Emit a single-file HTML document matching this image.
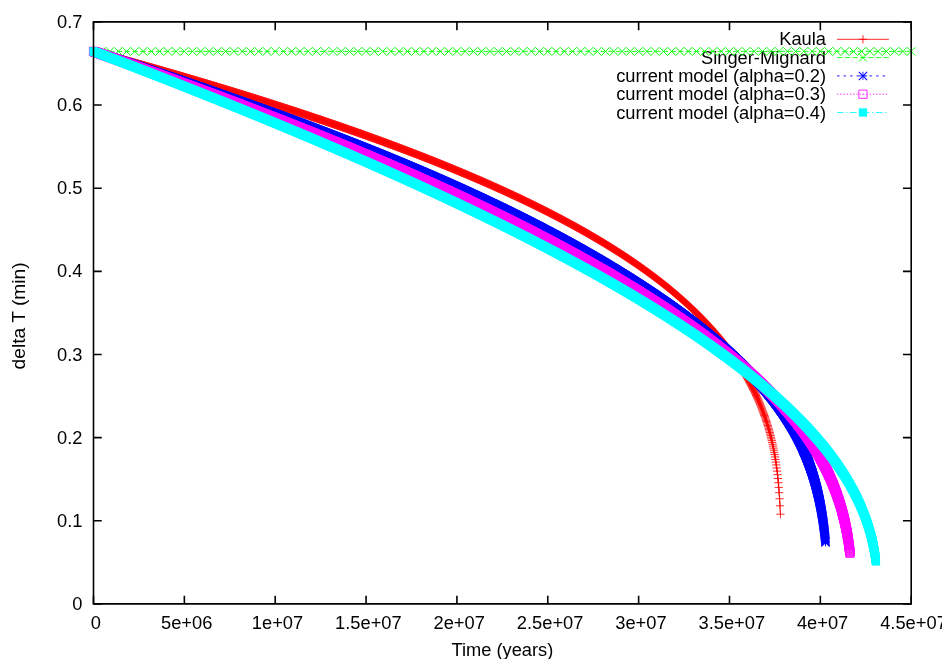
<!DOCTYPE html>
<html><head><meta charset="utf-8"><title>plot</title>
<style>
html,body{margin:0;padding:0;background:#fff;}
body{width:942px;height:659px;overflow:hidden;}
svg{display:block;will-change:transform;}
text{font-family:"Liberation Sans",sans-serif;font-size:18.3px;fill:#000;}
</style></head><body>
<svg width="942" height="659" viewBox="0 0 942 659">
<defs>
<marker id="mplus" markerUnits="userSpaceOnUse" markerWidth="12" markerHeight="12" refX="0" refY="0" viewBox="-6 -6 12 12" orient="0" overflow="visible"><path d="M-4.12,0H4.12M0,-4.12V4.12" stroke="#f00" stroke-width="0.85" fill="none"/></marker>
<g id="splus"><path d="M-4.12,0H4.12M0,-4.12V4.12" stroke="#f00" stroke-width="0.85" fill="none"/></g>
<marker id="mcrs" markerUnits="userSpaceOnUse" markerWidth="12" markerHeight="12" refX="0" refY="0" viewBox="-6 -6 12 12" orient="0" overflow="visible"><path d="M-4.12,-4.12L4.12,4.12M-4.12,4.12L4.12,-4.12" stroke="#0f0" stroke-width="0.95" fill="none"/></marker>
<g id="scrs"><path d="M-4.12,-4.12L4.12,4.12M-4.12,4.12L4.12,-4.12" stroke="#0f0" stroke-width="0.95" fill="none"/></g>
<marker id="mstar" markerUnits="userSpaceOnUse" markerWidth="12" markerHeight="12" refX="0" refY="0" viewBox="-6 -6 12 12" orient="0" overflow="visible"><path d="M-4.12,0H4.12M0,-4.12V4.12" stroke="#00f" stroke-width="0.85" fill="none"/><path d="M-4.12,-4.12L4.12,4.12M-4.12,4.12L4.12,-4.12" stroke="#00f" stroke-width="1.05" fill="none"/></marker>
<g id="sstar"><path d="M-4.12,0H4.12M0,-4.12V4.12" stroke="#00f" stroke-width="0.85" fill="none"/><path d="M-4.12,-4.12L4.12,4.12M-4.12,4.12L4.12,-4.12" stroke="#00f" stroke-width="1.05" fill="none"/></g>
<marker id="mbox" markerUnits="userSpaceOnUse" markerWidth="12" markerHeight="12" refX="0" refY="0" viewBox="-6 -6 12 12" orient="0" overflow="visible"><path d="M-4.12,-4.12H4.12V4.12H-4.12Z" stroke="#f0f" stroke-width="0.85" fill="none"/><circle r="0.5" fill="#f0f"/></marker>
<g id="sbox"><path d="M-4.12,-4.12H4.12V4.12H-4.12Z" stroke="#f0f" stroke-width="0.85" fill="none"/><circle r="0.5" fill="#f0f"/></g>
<marker id="mboxf" markerUnits="userSpaceOnUse" markerWidth="12" markerHeight="12" refX="0" refY="0" viewBox="-6 -6 12 12" orient="0" overflow="visible"><path d="M-4.12,-4.12H4.12V4.12H-4.12Z" stroke="none" fill="#0ff"/></marker>
<g id="sboxf"><path d="M-4.12,-4.12H4.12V4.12H-4.12Z" stroke="none" fill="#0ff"/></g>
</defs>
<g id="labels">
<text x="82.5" y="609.9" text-anchor="end">0</text>
<text x="82.5" y="526.8" text-anchor="end">0.1</text>
<text x="82.5" y="443.6" text-anchor="end">0.2</text>
<text x="82.5" y="360.5" text-anchor="end">0.3</text>
<text x="82.5" y="277.3" text-anchor="end">0.4</text>
<text x="82.5" y="194.2" text-anchor="end">0.5</text>
<text x="82.5" y="111.0" text-anchor="end">0.6</text>
<text x="82.5" y="27.9" text-anchor="end">0.7</text>
<text x="95.8" y="629.0" text-anchor="middle">0</text>
<text x="186.7" y="629.0" text-anchor="middle">5e+06</text>
<text x="277.5" y="629.0" text-anchor="middle">1e+07</text>
<text x="368.4" y="629.0" text-anchor="middle">1.5e+07</text>
<text x="459.2" y="629.0" text-anchor="middle">2e+07</text>
<text x="550.1" y="629.0" text-anchor="middle">2.5e+07</text>
<text x="640.9" y="629.0" text-anchor="middle">3e+07</text>
<text x="731.8" y="629.0" text-anchor="middle">3.5e+07</text>
<text x="822.6" y="629.0" text-anchor="middle">4e+07</text>
<text x="913.5" y="629.0" text-anchor="middle">4.5e+07</text>
<text x="502.4" y="655.6" text-anchor="middle">Time (years)</text>
<text transform="translate(24.7,315.9) rotate(-90)" text-anchor="middle" style="font-size:19.2px">delta T (min)</text>
</g>
<g id="plots">
<text x="826" y="45.3" text-anchor="end">Kaula</text>
<path d="M837.0,39.3H888.9" stroke="#f00" stroke-width="0.85" fill="none"/>
<use href="#splus" x="862.95" y="39.3"/>
<polyline points="93.50,51.40 93.91,51.51 94.32,51.62 94.73,51.73 95.14,51.85 95.55,51.96 95.96,52.07 96.37,52.18 96.78,52.29 97.19,52.40 97.60,52.52 98.01,52.63 98.42,52.74 98.83,52.85 99.24,52.96 99.65,53.08 100.06,53.19 100.47,53.30 100.88,53.41 101.29,53.52 101.70,53.64 102.11,53.75 102.52,53.86 102.93,53.97 103.34,54.09 103.75,54.20 104.16,54.31 104.57,54.42 104.98,54.54 105.39,54.65 105.80,54.76 106.21,54.87 106.62,54.99 107.03,55.10 107.44,55.21 107.85,55.32 108.26,55.44 108.67,55.55 109.08,55.66 109.49,55.77 109.90,55.89 110.31,56.00 110.72,56.11 111.13,56.23 111.54,56.34 111.95,56.45 112.36,56.57 112.77,56.68 113.18,56.79 113.59,56.91 114.00,57.02 114.41,57.13 114.82,57.24 115.23,57.36 115.64,57.47 116.05,57.58 116.47,57.70 116.88,57.81 117.29,57.93 117.70,58.04 118.11,58.15 118.52,58.27 118.93,58.38 119.34,58.49 119.75,58.61 120.16,58.72 120.57,58.83 120.98,58.95 121.39,59.06 121.80,59.18 122.21,59.29 122.62,59.40 123.03,59.52 123.44,59.63 123.85,59.75 124.26,59.86 124.67,59.98 125.08,60.09 125.49,60.20 125.90,60.32 126.31,60.43 126.72,60.55 127.13,60.66 127.54,60.78 127.95,60.89 128.36,61.00 128.77,61.12 129.18,61.23 129.59,61.35 130.00,61.46 130.41,61.58 130.82,61.69 131.23,61.81 131.64,61.92 132.05,62.04 132.46,62.15 132.87,62.27 133.28,62.38 133.69,62.50 134.10,62.61 134.51,62.73 134.92,62.84 135.33,62.96 135.74,63.07 136.15,63.19 136.56,63.30 136.97,63.42 137.38,63.53 137.79,63.65 138.20,63.76 138.61,63.88 139.02,64.00 139.43,64.11 139.84,64.23 140.25,64.34 140.66,64.46 141.07,64.57 141.48,64.69 141.89,64.81 142.30,64.92 142.71,65.04 143.12,65.15 143.53,65.27 143.94,65.38 144.35,65.50 144.76,65.62 145.17,65.73 145.58,65.85 145.99,65.97 146.40,66.08 146.81,66.20 147.22,66.31 147.63,66.43 148.04,66.55 148.45,66.66 148.86,66.78 149.27,66.90 149.68,67.01 150.09,67.13 150.50,67.25 150.91,67.36 151.32,67.48 151.73,67.60 152.14,67.71 152.55,67.83 152.96,67.95 153.37,68.06 153.78,68.18 154.19,68.30 154.60,68.41 155.01,68.53 155.42,68.65 155.83,68.77 156.24,68.88 156.65,69.00 157.06,69.12 157.47,69.23 157.88,69.35 158.29,69.47 158.70,69.59 159.11,69.70 159.52,69.82 159.93,69.94 160.34,70.06 160.75,70.17 161.16,70.29 161.57,70.41 161.98,70.53 162.40,70.65 162.81,70.76 163.22,70.88 163.63,71.00 164.04,71.12 164.45,71.23 164.86,71.35 165.27,71.47 165.68,71.59 166.09,71.71 166.50,71.83 166.91,71.94 167.32,72.06 167.73,72.18 168.14,72.30 168.55,72.42 168.96,72.54 169.37,72.65 169.78,72.77 170.19,72.89 170.60,73.01 171.01,73.13 171.42,73.25 171.83,73.37 172.24,73.48 172.65,73.60 173.06,73.72 173.47,73.84 173.88,73.96 174.29,74.08 174.70,74.20 175.11,74.32 175.52,74.44 175.93,74.56 176.34,74.68 176.75,74.79 177.16,74.91 177.57,75.03 177.98,75.15 178.39,75.27 178.80,75.39 179.21,75.51 179.62,75.63 180.03,75.75 180.44,75.87 180.85,75.99 181.26,76.11 181.67,76.23 182.08,76.35 182.49,76.47 182.90,76.59 183.31,76.71 183.72,76.83 184.13,76.95 184.54,77.07 184.95,77.19 185.36,77.31 185.77,77.43 186.18,77.55 186.59,77.67 187.00,77.79 187.41,77.91 187.82,78.03 188.23,78.15 188.64,78.27 189.05,78.39 189.46,78.51 189.87,78.63 190.28,78.75 190.69,78.88 191.10,79.00 191.51,79.12 191.92,79.24 192.33,79.36 192.74,79.48 193.15,79.60 193.56,79.72 193.97,79.84 194.38,79.96 194.79,80.09 195.20,80.21 195.61,80.33 196.02,80.45 196.43,80.57 196.84,80.69 197.25,80.81 197.66,80.94 198.07,81.06 198.48,81.18 198.89,81.30 199.30,81.42 199.71,81.54 200.12,81.67 200.53,81.79 200.94,81.91 201.35,82.03 201.76,82.15 202.17,82.28 202.58,82.40 202.99,82.52 203.40,82.64 203.81,82.76 204.22,82.89 204.63,83.01 205.04,83.13 205.45,83.25 205.86,83.38 206.27,83.50 206.68,83.62 207.09,83.74 207.50,83.87 207.91,83.99 208.33,84.11 208.74,84.23 209.15,84.36 209.56,84.48 209.97,84.60 210.38,84.73 210.79,84.85 211.20,84.97 211.61,85.10 212.02,85.22 212.43,85.34 212.84,85.47 213.25,85.59 213.66,85.71 214.07,85.84 214.48,85.96 214.89,86.08 215.30,86.21 215.71,86.33 216.12,86.45 216.53,86.58 216.94,86.70 217.35,86.82 217.76,86.95 218.17,87.07 218.58,87.20 218.99,87.32 219.40,87.44 219.81,87.57 220.22,87.69 220.63,87.82 221.04,87.94 221.45,88.07 221.86,88.19 222.27,88.31 222.68,88.44 223.09,88.56 223.50,88.69 223.91,88.81 224.32,88.94 224.73,89.06 225.14,89.19 225.55,89.31 225.96,89.44 226.37,89.56 226.78,89.69 227.19,89.81 227.60,89.94 228.01,90.06 228.42,90.19 228.83,90.31 229.24,90.44 229.65,90.56 230.06,90.69 230.47,90.81 230.88,90.94 231.29,91.06 231.70,91.19 232.11,91.31 232.52,91.44 232.93,91.57 233.34,91.69 233.75,91.82 234.16,91.94 234.57,92.07 234.98,92.19 235.39,92.32 235.80,92.45 236.21,92.57 236.62,92.70 237.03,92.83 237.44,92.95 237.85,93.08 238.26,93.20 238.67,93.33 239.08,93.46 239.49,93.58 239.90,93.71 240.31,93.84 240.72,93.96 241.13,94.09 241.54,94.22 241.95,94.34 242.36,94.47 242.77,94.60 243.18,94.73 243.59,94.85 244.00,94.98 244.41,95.11 244.82,95.23 245.23,95.36 245.64,95.49 246.05,95.62 246.46,95.74 246.87,95.87 247.28,96.00 247.69,96.13 248.10,96.25 248.51,96.38 248.92,96.51 249.33,96.64 249.74,96.76 250.15,96.89 250.56,97.02 250.97,97.15 251.38,97.28 251.79,97.40 252.20,97.53 252.61,97.66 253.02,97.79 253.43,97.92 253.85,98.05 254.26,98.17 254.67,98.30 255.08,98.43 255.49,98.56 255.90,98.69 256.31,98.82 256.72,98.95 257.13,99.08 257.54,99.20 257.95,99.33 258.36,99.46 258.77,99.59 259.18,99.72 259.59,99.85 260.00,99.98 260.41,100.11 260.82,100.24 261.23,100.37 261.64,100.50 262.05,100.63 262.46,100.76 262.87,100.88 263.28,101.01 263.69,101.14 264.10,101.27 264.51,101.40 264.92,101.53 265.33,101.66 265.74,101.79 266.15,101.92 266.56,102.05 266.97,102.18 267.38,102.31 267.79,102.44 268.20,102.58 268.61,102.71 269.02,102.84 269.43,102.97 269.84,103.10 270.25,103.23 270.66,103.36 271.07,103.49 271.48,103.62 271.89,103.75 272.30,103.88 272.71,104.01 273.12,104.14 273.53,104.28 273.94,104.41 274.35,104.54 274.76,104.67 275.17,104.80 275.58,104.93 275.99,105.06 276.40,105.20 276.81,105.33 277.22,105.46 277.63,105.59 278.04,105.72 278.45,105.85 278.86,105.99 279.27,106.12 279.68,106.25 280.09,106.38 280.50,106.51 280.91,106.65 281.32,106.78 281.73,106.91 282.14,107.04 282.55,107.18 282.96,107.31 283.37,107.44 283.78,107.57 284.19,107.71 284.60,107.84 285.01,107.97 285.42,108.10 285.83,108.24 286.24,108.37 286.65,108.50 287.06,108.64 287.47,108.77 287.88,108.90 288.29,109.04 288.70,109.17 289.11,109.30 289.52,109.44 289.93,109.57 290.34,109.70 290.75,109.84 291.16,109.97 291.57,110.10 291.98,110.24 292.39,110.37 292.80,110.51 293.21,110.64 293.62,110.77 294.03,110.91 294.44,111.04 294.85,111.18 295.26,111.31 295.67,111.45 296.08,111.58 296.49,111.72 296.90,111.85 297.31,111.98 297.72,112.12 298.13,112.25 298.54,112.39 298.95,112.52 299.36,112.66 299.78,112.79 300.19,112.93 300.60,113.06 301.01,113.20 301.42,113.33 301.83,113.47 302.24,113.61 302.65,113.74 303.06,113.88 303.47,114.01 303.88,114.15 304.29,114.28 304.70,114.42 305.11,114.56 305.52,114.69 305.93,114.83 306.34,114.96 306.75,115.10 307.16,115.24 307.57,115.37 307.98,115.51 308.39,115.65 308.80,115.78 309.21,115.92 309.62,116.05 310.03,116.19 310.44,116.33 310.85,116.47 311.26,116.60 311.67,116.74 312.08,116.88 312.49,117.01 312.90,117.15 313.31,117.29 313.72,117.43 314.13,117.56 314.54,117.70 314.95,117.84 315.36,117.98 315.77,118.11 316.18,118.25 316.59,118.39 317.00,118.53 317.41,118.66 317.82,118.80 318.23,118.94 318.64,119.08 319.05,119.22 319.46,119.35 319.87,119.49 320.28,119.63 320.69,119.77 321.10,119.91 321.51,120.05 321.92,120.19 322.33,120.32 322.74,120.46 323.15,120.60 323.56,120.74 323.97,120.88 324.38,121.02 324.79,121.16 325.20,121.30 325.61,121.44 326.02,121.58 326.43,121.72 326.84,121.86 327.25,122.00 327.66,122.14 328.07,122.27 328.48,122.41 328.89,122.55 329.30,122.69 329.71,122.83 330.12,122.97 330.53,123.11 330.94,123.26 331.35,123.40 331.76,123.54 332.17,123.68 332.58,123.82 332.99,123.96 333.40,124.10 333.81,124.24 334.22,124.38 334.63,124.52 335.04,124.66 335.45,124.80 335.86,124.94 336.27,125.09 336.68,125.23 337.09,125.37 337.50,125.51 337.91,125.65 338.32,125.79 338.73,125.93 339.14,126.08 339.55,126.22 339.96,126.36 340.37,126.50 340.78,126.64 341.19,126.79 341.60,126.93 342.01,127.07 342.42,127.21 342.83,127.36 343.24,127.50 343.65,127.64 344.06,127.78 344.47,127.93 344.88,128.07 345.29,128.21 345.71,128.35 346.12,128.50 346.53,128.64 346.94,128.78 347.35,128.93 347.76,129.07 348.17,129.21 348.58,129.36 348.99,129.50 349.40,129.64 349.81,129.79 350.22,129.93 350.63,130.08 351.04,130.22 351.45,130.36 351.86,130.51 352.27,130.65 352.68,130.80 353.09,130.94 353.50,131.09 353.91,131.23 354.32,131.37 354.73,131.52 355.14,131.66 355.55,131.81 355.96,131.95 356.37,132.10 356.78,132.24 357.19,132.39 357.60,132.53 358.01,132.68 358.42,132.82 358.83,132.97 359.24,133.12 359.65,133.26 360.06,133.41 360.47,133.55 360.88,133.70 361.29,133.85 361.70,133.99 362.11,134.14 362.52,134.28 362.93,134.43 363.34,134.58 363.75,134.72 364.16,134.87 364.57,135.02 364.98,135.16 365.39,135.31 365.80,135.46 366.21,135.60 366.62,135.75 367.03,135.90 367.44,136.04 367.85,136.19 368.26,136.34 368.67,136.49 369.08,136.63 369.49,136.78 369.90,136.93 370.31,137.08 370.72,137.23 371.13,137.37 371.54,137.52 371.95,137.67 372.36,137.82 372.77,137.97 373.18,138.12 373.59,138.26 374.00,138.41 374.41,138.56 374.82,138.71 375.23,138.86 375.64,139.01 376.05,139.16 376.46,139.31 376.87,139.45 377.28,139.60 377.69,139.75 378.10,139.90 378.51,140.05 378.92,140.20 379.33,140.35 379.74,140.50 380.15,140.65 380.56,140.80 380.97,140.95 381.38,141.10 381.79,141.25 382.20,141.40 382.61,141.55 383.02,141.70 383.43,141.85 383.84,142.01 384.25,142.16 384.66,142.31 385.07,142.46 385.48,142.61 385.89,142.76 386.30,142.91 386.71,143.06 387.12,143.21 387.53,143.37 387.94,143.52 388.35,143.67 388.76,143.82 389.17,143.97 389.58,144.12 389.99,144.28 390.40,144.43 390.81,144.58 391.23,144.73 391.64,144.89 392.05,145.04 392.46,145.19 392.87,145.34 393.28,145.50 393.69,145.65 394.10,145.80 394.51,145.96 394.92,146.11 395.33,146.26 395.74,146.42 396.15,146.57 396.56,146.72 396.97,146.88 397.38,147.03 397.79,147.19 398.20,147.34 398.61,147.49 399.02,147.65 399.43,147.80 399.84,147.96 400.25,148.11 400.66,148.27 401.07,148.42 401.48,148.57 401.89,148.73 402.30,148.88 402.71,149.04 403.12,149.19 403.53,149.35 403.94,149.51 404.35,149.66 404.76,149.82 405.17,149.97 405.58,150.13 405.99,150.28 406.40,150.44 406.81,150.60 407.22,150.75 407.63,150.91 408.04,151.06 408.45,151.22 408.86,151.38 409.27,151.53 409.68,151.69 410.09,151.85 410.50,152.01 410.91,152.16 411.32,152.32 411.73,152.48 412.14,152.63 412.55,152.79 412.96,152.95 413.37,153.11 413.78,153.26 414.19,153.42 414.60,153.58 415.01,153.74 415.42,153.90 415.83,154.06 416.24,154.21 416.65,154.37 417.06,154.53 417.47,154.69 417.88,154.85 418.29,155.01 418.70,155.17 419.11,155.33 419.52,155.49 419.93,155.64 420.34,155.80 420.75,155.96 421.16,156.12 421.57,156.28 421.98,156.44 422.39,156.60 422.80,156.76 423.21,156.92 423.62,157.08 424.03,157.24 424.44,157.41 424.85,157.57 425.26,157.73 425.67,157.89 426.08,158.05 426.49,158.21 426.90,158.37 427.31,158.53 427.72,158.69 428.13,158.86 428.54,159.02 428.95,159.18 429.36,159.34 429.77,159.50 430.18,159.67 430.59,159.83 431.00,159.99 431.41,160.15 431.82,160.32 432.23,160.48 432.64,160.64 433.05,160.80 433.46,160.97 433.87,161.13 434.28,161.29 434.69,161.46 435.10,161.62 435.51,161.78 435.92,161.95 436.33,162.11 436.74,162.28 437.16,162.44 437.57,162.60 437.98,162.77 438.39,162.93 438.80,163.10 439.21,163.26 439.62,163.43 440.03,163.59 440.44,163.76 440.85,163.92 441.26,164.09 441.67,164.25 442.08,164.42 442.49,164.58 442.90,164.75 443.31,164.92 443.72,165.08 444.13,165.25 444.54,165.41 444.95,165.58 445.36,165.75 445.77,165.91 446.18,166.08 446.59,166.25 447.00,166.41 447.41,166.58 447.82,166.75 448.23,166.92 448.64,167.08 449.05,167.25 449.46,167.42 449.87,167.59 450.28,167.75 450.69,167.92 451.10,168.09 451.51,168.26 451.92,168.43 452.33,168.60 452.74,168.77 453.15,168.93 453.56,169.10 453.97,169.27 454.38,169.44 454.79,169.61 455.20,169.78 455.61,169.95 456.02,170.12 456.43,170.29 456.84,170.46 457.25,170.63 457.66,170.80 458.07,170.97 458.48,171.14 458.89,171.31 459.30,171.48 459.71,171.65 460.12,171.82 460.53,172.00 460.94,172.17 461.35,172.34 461.76,172.51 462.17,172.68 462.58,172.85 462.99,173.03 463.40,173.20 463.81,173.37 464.22,173.54 464.63,173.72 465.04,173.89 465.45,174.06 465.86,174.23 466.27,174.41 466.68,174.58 467.09,174.75 467.50,174.93 467.91,175.10 468.32,175.27 468.73,175.45 469.14,175.62 469.55,175.80 469.96,175.97 470.37,176.15 470.78,176.32 471.19,176.49 471.60,176.67 472.01,176.84 472.42,177.02 472.83,177.19 473.24,177.37 473.65,177.55 474.06,177.72 474.47,177.90 474.88,178.07 475.29,178.25 475.70,178.43 476.11,178.60 476.52,178.78 476.93,178.96 477.34,179.13 477.75,179.31 478.16,179.49 478.57,179.66 478.98,179.84 479.39,180.02 479.80,180.20 480.21,180.38 480.62,180.55 481.03,180.73 481.44,180.91 481.85,181.09 482.26,181.27 482.67,181.45 483.09,181.62 483.50,181.80 483.91,181.98 484.32,182.16 484.73,182.34 485.14,182.52 485.55,182.70 485.96,182.88 486.37,183.06 486.78,183.24 487.19,183.42 487.60,183.60 488.01,183.78 488.42,183.97 488.83,184.15 489.24,184.33 489.65,184.51 490.06,184.69 490.47,184.87 490.88,185.05 491.29,185.24 491.70,185.42 492.11,185.60 492.52,185.78 492.93,185.97 493.34,186.15 493.75,186.33 494.16,186.52 494.57,186.70 494.98,186.88 495.39,187.07 495.80,187.25 496.21,187.43 496.62,187.62 497.03,187.80 497.44,187.99 497.85,188.17 498.26,188.36 498.67,188.54 499.08,188.73 499.49,188.91 499.90,189.10 500.31,189.28 500.72,189.47 501.13,189.65 501.54,189.84 501.95,190.03 502.36,190.21 502.77,190.40 503.18,190.59 503.59,190.77 504.00,190.96 504.41,191.15 504.82,191.34 505.23,191.52 505.64,191.71 506.05,191.90 506.46,192.09 506.87,192.28 507.28,192.46 507.69,192.65 508.10,192.84 508.51,193.03 508.92,193.22 509.33,193.41 509.74,193.60 510.15,193.79 510.56,193.98 510.97,194.17 511.38,194.36 511.79,194.55 512.20,194.74 512.61,194.93 513.02,195.12 513.43,195.31 513.84,195.50 514.25,195.70 514.66,195.89 515.07,196.08 515.48,196.27 515.89,196.46 516.30,196.66 516.71,196.85 517.12,197.04 517.53,197.23 517.94,197.43 518.35,197.62 518.76,197.82 519.17,198.01 519.58,198.20 519.99,198.40 520.40,198.59 520.81,198.79 521.22,198.98 521.63,199.18 522.04,199.37 522.45,199.57 522.86,199.76 523.27,199.96 523.68,200.15 524.09,200.35 524.50,200.55 524.91,200.74 525.32,200.94 525.73,201.14 526.14,201.33 526.55,201.53 526.96,201.73 527.37,201.93 527.78,202.12 528.19,202.32 528.61,202.52 529.02,202.72 529.43,202.92 529.84,203.12 530.25,203.31 530.66,203.51 531.07,203.71 531.48,203.91 531.89,204.11 532.30,204.31 532.71,204.51 533.12,204.71 533.53,204.91 533.94,205.12 534.35,205.32 534.76,205.52 535.17,205.72 535.58,205.92 535.99,206.12 536.40,206.33 536.81,206.53 537.22,206.73 537.63,206.93 538.04,207.14 538.45,207.34 538.86,207.54 539.27,207.75 539.68,207.95 540.09,208.15 540.50,208.36 540.91,208.56 541.32,208.77 541.73,208.97 542.14,209.18 542.55,209.38 542.96,209.59 543.37,209.80 543.78,210.00 544.19,210.21 544.60,210.41 545.01,210.62 545.42,210.83 545.83,211.04 546.24,211.24 546.65,211.45 547.06,211.66 547.47,211.87 547.88,212.08 548.29,212.28 548.70,212.49 549.11,212.70 549.52,212.91 549.93,213.12 550.34,213.33 550.75,213.54 551.16,213.75 551.57,213.96 551.98,214.17 552.39,214.38 552.80,214.59 553.21,214.81 553.62,215.02 554.03,215.23 554.44,215.44 554.85,215.65 555.26,215.87 555.67,216.08 556.08,216.29 556.49,216.51 556.90,216.72 557.31,216.93 557.72,217.15 558.13,217.36 558.54,217.58 558.95,217.79 559.36,218.01 559.77,218.22 560.18,218.44 560.59,218.65 561.00,218.87 561.41,219.09 561.82,219.30 562.23,219.52 562.64,219.74 563.05,219.95 563.46,220.17 563.87,220.39 564.28,220.61 564.69,220.83 565.10,221.05 565.51,221.26 565.92,221.48 566.33,221.70 566.74,221.92 567.15,222.14 567.56,222.36 567.97,222.58 568.38,222.81 568.79,223.03 569.20,223.25 569.61,223.47 570.02,223.69 570.43,223.91 570.84,224.14 571.25,224.36 571.66,224.58 572.07,224.81 572.48,225.03 572.89,225.25 573.30,225.48 573.71,225.70 574.12,225.93 574.54,226.15 574.95,226.38 575.36,226.60 575.77,226.83 576.18,227.05 576.59,227.28 577.00,227.51 577.41,227.73 577.82,227.96 578.23,228.19 578.64,228.42 579.05,228.65 579.46,228.87 579.87,229.10 580.28,229.33 580.69,229.56 581.10,229.79 581.51,230.02 581.92,230.25 582.33,230.48 582.74,230.71 583.15,230.94 583.56,231.18 583.97,231.41 584.38,231.64 584.79,231.87 585.20,232.11 585.61,232.34 586.02,232.57 586.43,232.81 586.84,233.04 587.25,233.27 587.66,233.51 588.07,233.74 588.48,233.98 588.89,234.22 589.30,234.45 589.71,234.69 590.12,234.92 590.53,235.16 590.94,235.40 591.35,235.64 591.76,235.87 592.17,236.11 592.58,236.35 592.99,236.59 593.40,236.83 593.81,237.07 594.22,237.31 594.63,237.55 595.04,237.79 595.45,238.03 595.86,238.27 596.27,238.51 596.68,238.76 597.09,239.00 597.50,239.24 597.91,239.48 598.32,239.73 598.73,239.97 599.14,240.21 599.55,240.46 599.96,240.70 600.37,240.95 600.78,241.19 601.19,241.44 601.60,241.69 602.01,241.93 602.42,242.18 602.83,242.43 603.24,242.68 603.65,242.92 604.06,243.17 604.47,243.42 604.88,243.67 605.29,243.92 605.70,244.17 606.11,244.42 606.52,244.67 606.93,244.92 607.34,245.17 607.75,245.42 608.16,245.68 608.57,245.93 608.98,246.18 609.39,246.44 609.80,246.69 610.21,246.94 610.62,247.20 611.03,247.45 611.44,247.71 611.85,247.96 612.26,248.22 612.67,248.48 613.08,248.73 613.49,248.99 613.90,249.25 614.31,249.51 614.72,249.77 615.13,250.02 615.54,250.28 615.95,250.54 616.36,250.80 616.77,251.07 617.18,251.33 617.59,251.59 618.00,251.85 618.41,252.11 618.82,252.37 619.23,252.64 619.64,252.90 620.05,253.17 620.47,253.43 620.88,253.70 621.29,253.96 621.70,254.23 622.11,254.49 622.52,254.76 622.93,255.03 623.34,255.29 623.75,255.56 624.16,255.83 624.57,256.10 624.98,256.37 625.39,256.64 625.80,256.91 626.21,257.18 626.62,257.45 627.03,257.72 627.44,258.00 627.85,258.27 628.26,258.54 628.67,258.82 629.08,259.09 629.49,259.36 629.90,259.64 630.31,259.92 630.72,260.19 631.13,260.47 631.54,260.75 631.95,261.02 632.36,261.30 632.77,261.58 633.18,261.86 633.59,262.14 634.00,262.42 634.41,262.70 634.82,262.98 635.23,263.26 635.64,263.54 636.05,263.83 636.46,264.11 636.87,264.39 637.28,264.68 637.69,264.96 638.10,265.25 638.51,265.53 638.92,265.82 639.33,266.11 639.74,266.39 640.15,266.68 640.56,266.97 640.97,267.26 641.38,267.55 641.79,267.84 642.20,268.13 642.61,268.42 643.02,268.71 643.43,269.01 643.84,269.30 644.25,269.59 644.66,269.89 645.07,270.18 645.48,270.48 645.89,270.77 646.30,271.07 646.71,271.37 647.12,271.66 647.53,271.96 647.94,272.26 648.35,272.56 648.76,272.86 649.17,273.16 649.58,273.46 649.99,273.76 650.40,274.07 650.81,274.37 651.22,274.67 651.63,274.98 652.04,275.28 652.45,275.59 652.86,275.90 653.27,276.20 653.68,276.51 654.09,276.82 654.50,277.13 654.91,277.44 655.32,277.75 655.73,278.06 656.14,278.37 656.55,278.68 656.96,278.99 657.37,279.31 657.78,279.62 658.19,279.94 658.60,280.25 659.01,280.57 659.42,280.89 659.83,281.20 660.24,281.52 660.65,281.84 661.06,282.16 661.47,282.48 661.88,282.80 662.29,283.12 662.70,283.45 663.11,283.77 663.52,284.09 663.93,284.42 664.34,284.75 664.75,285.07 665.16,285.40 665.57,285.73 665.99,286.06 666.40,286.38 666.81,286.72 667.22,287.05 667.63,287.38 668.04,287.71 668.45,288.04 668.86,288.38 669.27,288.71 669.68,289.05 670.09,289.39 670.50,289.72 670.91,290.06 671.32,290.40 671.73,290.74 672.14,291.08 672.55,291.42 672.96,291.76 673.37,292.11 673.78,292.45 674.19,292.80 674.60,293.14 675.01,293.49 675.42,293.84 675.83,294.18 676.24,294.53 676.65,294.88 677.06,295.24 677.47,295.59 677.88,295.94 678.29,296.29 678.70,296.65 679.11,297.00 679.52,297.36 679.93,297.72 680.34,298.08 680.75,298.44 681.16,298.80 681.57,299.16 681.98,299.52 682.39,299.88 682.80,300.25 683.21,300.61 683.62,300.98 684.03,301.35 684.44,301.72 684.85,302.09 685.26,302.46 685.67,302.83 686.08,303.20 686.49,303.57 686.90,303.95 687.31,304.32 687.72,304.70 688.13,305.08 688.54,305.46 688.95,305.84 689.36,306.22 689.77,306.60 690.18,306.98 690.59,307.37 691.00,307.76 691.41,308.14 691.82,308.53 692.23,308.92 692.64,309.31 693.05,309.70 693.46,310.09 693.87,310.49 694.28,310.88 694.69,311.28 695.10,311.68 695.51,312.08 695.92,312.48 696.33,312.88 696.74,313.28 697.15,313.68 697.56,314.09 697.97,314.49 698.38,314.90 698.79,315.31 699.20,315.72 699.61,316.13 700.02,316.55 700.43,316.96 700.84,317.38 701.25,317.79 701.66,318.21 702.07,318.63 702.48,319.05 702.89,319.48 703.30,319.90 703.71,320.33 704.12,320.76 704.53,321.18 704.94,321.61 705.35,322.05 705.76,322.48 706.17,322.91 706.58,323.35 706.99,323.79 707.40,324.23 707.81,324.67 708.22,325.11 708.63,325.56 709.04,326.00 709.45,326.45 709.86,326.90 710.27,327.35 710.68,327.80 711.09,328.26 711.50,328.71 711.92,329.17 712.33,329.63 712.74,330.09 713.15,330.56 713.56,331.02 713.97,331.49 714.38,331.96 714.79,332.43 715.20,332.90 715.61,333.37 716.02,333.85 716.43,334.33 716.84,334.81 717.25,335.29 717.66,335.78 718.07,336.26 718.48,336.75 718.89,337.24 719.30,337.73 719.71,338.23 720.12,338.73 720.53,339.22 720.94,339.73 721.35,340.23 721.76,340.73 722.17,341.24 722.58,341.75 722.99,342.26 723.40,342.78 723.81,343.30 724.22,343.82 724.63,344.34 725.04,344.86 725.45,345.39 725.86,345.92 726.27,346.45 726.68,346.99 727.09,347.52 727.50,348.06 727.91,348.61 728.32,349.15 728.73,349.70 729.14,350.25 729.55,350.80 729.96,351.36 730.37,351.92 730.78,352.48 731.19,353.04 731.60,353.61 732.01,354.18 732.42,354.76 732.83,355.34 733.24,355.92 733.65,356.50 734.06,357.09 734.47,357.68 734.88,358.27 735.29,358.87 735.70,359.47 736.11,360.07 736.52,360.68 736.93,361.29 737.34,361.90 737.75,362.52 738.16,363.14 738.57,363.77 738.98,364.40 739.39,365.03 739.80,365.67 740.21,366.31 740.62,366.96 741.03,367.61 741.44,368.26 741.85,368.92 742.26,369.58 742.67,370.25 743.08,370.92 743.49,371.60 743.90,372.28 744.31,372.97 744.72,373.66 745.13,374.36 745.54,375.06 745.95,375.76 746.36,376.48 746.77,377.19 747.18,377.92 747.59,378.64 748.00,379.38 748.41,380.12 748.82,380.86 749.23,381.62 749.64,382.37 750.05,383.14 750.46,383.91 750.87,384.69 751.28,385.47 751.69,386.26 752.10,387.06 752.51,387.87 752.92,388.68 753.33,389.50 753.74,390.33 754.15,391.17 754.56,392.01 754.97,392.87 755.38,393.73 755.79,394.60 756.20,395.48 756.61,396.37 757.02,397.27 757.43,398.18 757.85,399.10 758.26,400.03 758.67,400.97 759.08,401.92 759.49,402.89 759.90,403.86 760.31,404.85 760.72,405.85 761.13,406.87 761.54,407.90 761.95,408.94 762.36,410.00 762.77,411.07 763.18,412.16 763.59,413.27 764.00,414.39 764.41,415.53 764.82,416.70 765.23,417.88 765.64,419.08 766.05,420.30 766.46,421.55 766.87,422.82 767.28,424.12 767.69,425.45 768.10,426.80 768.51,428.18 768.92,429.60 769.33,431.05 769.74,432.54 770.15,434.06 770.56,435.63 770.97,437.24 771.38,438.91 771.79,440.62 772.20,442.39 772.61,444.23 773.02,446.13 773.43,448.11 773.84,450.17 774.25,452.32 774.66,454.57 775.07,456.94 775.48,459.44 775.89,462.09 776.30,464.91 776.71,467.92 777.12,471.15 777.53,474.66 777.94,478.49 778.35,482.71 778.76,487.40 779.17,492.69 779.58,498.75 779.99,505.80 780.40,514.20" stroke="#f00" stroke-width="0.85" fill="none" marker-start="url(#mplus)" marker-mid="url(#mplus)" marker-end="url(#mplus)"/>
<text x="826" y="63.6" text-anchor="end">Singer-Mignard</text>
<path d="M837.0,57.6H888.9" stroke="#0f0" stroke-width="0.85" stroke-dasharray="5.2 2.6" fill="none"/>
<use href="#scrs" x="862.95" y="57.6"/>
<polyline points="93.50,51.40 101.76,51.40 110.02,51.40 118.28,51.40 126.54,51.40 134.80,51.40 143.06,51.40 151.32,51.40 159.58,51.40 167.84,51.40 176.10,51.40 184.36,51.40 192.62,51.40 200.87,51.40 209.13,51.40 217.39,51.40 225.65,51.40 233.91,51.40 242.17,51.40 250.43,51.40 258.69,51.40 266.95,51.40 275.21,51.40 283.47,51.40 291.73,51.40 299.99,51.40 308.25,51.40 316.51,51.40 324.77,51.40 333.03,51.40 341.29,51.40 349.55,51.40 357.81,51.40 366.07,51.40 374.33,51.40 382.59,51.40 390.85,51.40 399.11,51.40 407.36,51.40 415.62,51.40 423.88,51.40 432.14,51.40 440.40,51.40 448.66,51.40 456.92,51.40 465.18,51.40 473.44,51.40 481.70,51.40 489.96,51.40 498.22,51.40 506.48,51.40 514.74,51.40 523.00,51.40 531.26,51.40 539.52,51.40 547.78,51.40 556.04,51.40 564.30,51.40 572.56,51.40 580.82,51.40 589.08,51.40 597.34,51.40 605.59,51.40 613.85,51.40 622.11,51.40 630.37,51.40 638.63,51.40 646.89,51.40 655.15,51.40 663.41,51.40 671.67,51.40 679.93,51.40 688.19,51.40 696.45,51.40 704.71,51.40 712.97,51.40 721.23,51.40 729.49,51.40 737.75,51.40 746.01,51.40 754.27,51.40 762.53,51.40 770.79,51.40 779.05,51.40 787.31,51.40 795.57,51.40 803.83,51.40 812.08,51.40 820.34,51.40 828.60,51.40 836.86,51.40 845.12,51.40 853.38,51.40 861.64,51.40 869.90,51.40 878.16,51.40 886.42,51.40 894.68,51.40 902.94,51.40 911.20,51.40" stroke="#0f0" stroke-width="0.85" stroke-dasharray="5.2 2.6" fill="none" marker-start="url(#mcrs)" marker-mid="url(#mcrs)" marker-end="url(#mcrs)"/>
<text x="826" y="81.9" text-anchor="end">current model (alpha=0.2)</text>
<path d="M837.0,75.9H888.9" stroke="#00f" stroke-width="0.85" stroke-dasharray="2.6 3.9" fill="none"/>
<use href="#sstar" x="862.95" y="75.9"/>
<polyline points="93.50,51.40 93.75,51.48 93.99,51.56 94.24,51.64 94.48,51.73 94.73,51.81 94.98,51.89 95.22,51.97 95.47,52.05 95.71,52.13 95.96,52.22 96.21,52.30 96.45,52.38 96.70,52.46 96.94,52.54 97.19,52.62 97.44,52.70 97.68,52.79 97.93,52.87 98.17,52.95 98.42,53.03 98.67,53.11 98.91,53.19 99.16,53.28 99.40,53.36 99.65,53.44 99.90,53.52 100.14,53.60 100.39,53.68 100.63,53.77 100.88,53.85 101.13,53.93 101.37,54.01 101.62,54.09 101.86,54.17 102.11,54.26 102.36,54.34 102.60,54.42 102.85,54.50 103.09,54.58 103.34,54.66 103.59,54.75 103.83,54.83 104.08,54.91 104.32,54.99 104.57,55.07 104.82,55.15 105.06,55.24 105.31,55.32 105.55,55.40 105.80,55.48 106.05,55.56 106.29,55.64 106.54,55.73 106.78,55.81 107.03,55.89 107.28,55.97 107.52,56.05 107.77,56.13 108.01,56.22 108.26,56.30 108.51,56.38 108.75,56.46 109.00,56.54 109.24,56.63 109.49,56.71 109.74,56.79 109.98,56.87 110.23,56.95 110.47,57.03 110.72,57.12 110.97,57.20 111.21,57.28 111.46,57.36 111.70,57.44 111.95,57.53 112.20,57.61 112.44,57.69 112.69,57.77 112.93,57.85 113.18,57.94 113.43,58.02 113.67,58.10 113.92,58.18 114.17,58.26 114.41,58.35 114.66,58.43 114.90,58.51 115.15,58.59 115.40,58.67 115.64,58.76 115.89,58.84 116.13,58.92 116.38,59.00 116.63,59.08 116.87,59.17 117.12,59.25 117.36,59.33 117.61,59.41 117.86,59.49 118.10,59.58 118.35,59.66 118.59,59.74 118.84,59.82 119.09,59.90 119.33,59.99 119.58,60.07 119.82,60.15 120.07,60.23 120.32,60.31 120.56,60.40 120.81,60.48 121.05,60.56 121.30,60.64 121.55,60.72 121.79,60.81 122.04,60.89 122.28,60.97 122.53,61.05 122.78,61.14 123.02,61.22 123.27,61.30 123.51,61.38 123.76,61.46 124.01,61.55 124.25,61.63 124.50,61.71 124.74,61.79 124.99,61.87 125.24,61.96 125.48,62.04 125.73,62.12 125.97,62.20 126.22,62.29 126.47,62.37 126.71,62.45 126.96,62.53 127.20,62.62 127.45,62.70 127.70,62.78 127.94,62.86 128.19,62.94 128.43,63.03 128.68,63.11 128.93,63.19 129.17,63.27 129.42,63.36 129.66,63.44 129.91,63.52 130.16,63.60 130.40,63.69 130.65,63.77 130.89,63.85 131.14,63.93 131.39,64.02 131.63,64.10 131.88,64.18 132.12,64.26 132.37,64.34 132.62,64.43 132.86,64.51 133.11,64.59 133.35,64.67 133.60,64.76 133.85,64.84 134.09,64.92 134.34,65.00 134.58,65.09 134.83,65.17 135.08,65.25 135.32,65.33 135.57,65.42 135.81,65.50 136.06,65.58 136.31,65.66 136.55,65.75 136.80,65.83 137.04,65.91 137.29,65.99 137.54,66.08 137.78,66.16 138.03,66.24 138.27,66.33 138.52,66.41 138.77,66.49 139.01,66.57 139.26,66.66 139.50,66.74 139.75,66.82 140.00,66.90 140.24,66.99 140.49,67.07 140.73,67.15 140.98,67.23 141.23,67.32 141.47,67.40 141.72,67.48 141.96,67.57 142.21,67.65 142.46,67.73 142.70,67.81 142.95,67.90 143.19,67.98 143.44,68.06 143.69,68.14 143.93,68.23 144.18,68.31 144.42,68.39 144.67,68.48 144.92,68.56 145.16,68.64 145.41,68.72 145.65,68.81 145.90,68.89 146.15,68.97 146.39,69.06 146.64,69.14 146.88,69.22 147.13,69.30 147.38,69.39 147.62,69.47 147.87,69.55 148.11,69.64 148.36,69.72 148.61,69.80 148.85,69.89 149.10,69.97 149.34,70.05 149.59,70.13 149.84,70.22 150.08,70.30 150.33,70.38 150.57,70.47 150.82,70.55 151.07,70.63 151.31,70.72 151.56,70.80 151.80,70.88 152.05,70.96 152.30,71.05 152.54,71.13 152.79,71.21 153.03,71.30 153.28,71.38 153.53,71.46 153.77,71.55 154.02,71.63 154.26,71.71 154.51,71.80 154.76,71.88 155.00,71.96 155.25,72.05 155.50,72.13 155.74,72.21 155.99,72.29 156.23,72.38 156.48,72.46 156.73,72.54 156.97,72.63 157.22,72.71 157.46,72.79 157.71,72.88 157.96,72.96 158.20,73.04 158.45,73.13 158.69,73.21 158.94,73.29 159.19,73.38 159.43,73.46 159.68,73.54 159.92,73.63 160.17,73.71 160.42,73.79 160.66,73.88 160.91,73.96 161.15,74.04 161.40,74.13 161.65,74.21 161.89,74.29 162.14,74.38 162.38,74.46 162.63,74.55 162.88,74.63 163.12,74.71 163.37,74.80 163.61,74.88 163.86,74.96 164.11,75.05 164.35,75.13 164.60,75.21 164.84,75.30 165.09,75.38 165.34,75.46 165.58,75.55 165.83,75.63 166.07,75.71 166.32,75.80 166.57,75.88 166.81,75.97 167.06,76.05 167.30,76.13 167.55,76.22 167.80,76.30 168.04,76.38 168.29,76.47 168.53,76.55 168.78,76.63 169.03,76.72 169.27,76.80 169.52,76.89 169.76,76.97 170.01,77.05 170.26,77.14 170.50,77.22 170.75,77.30 170.99,77.39 171.24,77.47 171.49,77.56 171.73,77.64 171.98,77.72 172.22,77.81 172.47,77.89 172.72,77.98 172.96,78.06 173.21,78.14 173.45,78.23 173.70,78.31 173.95,78.39 174.19,78.48 174.44,78.56 174.68,78.65 174.93,78.73 175.18,78.81 175.42,78.90 175.67,78.98 175.91,79.07 176.16,79.15 176.41,79.23 176.65,79.32 176.90,79.40 177.14,79.49 177.39,79.57 177.64,79.65 177.88,79.74 178.13,79.82 178.37,79.91 178.62,79.99 178.87,80.08 179.11,80.16 179.36,80.24 179.60,80.33 179.85,80.41 180.10,80.50 180.34,80.58 180.59,80.66 180.83,80.75 181.08,80.83 181.33,80.92 181.57,81.00 181.82,81.09 182.06,81.17 182.31,81.25 182.56,81.34 182.80,81.42 183.05,81.51 183.29,81.59 183.54,81.68 183.79,81.76 184.03,81.84 184.28,81.93 184.52,82.01 184.77,82.10 185.02,82.18 185.26,82.27 185.51,82.35 185.75,82.43 186.00,82.52 186.25,82.60 186.49,82.69 186.74,82.77 186.98,82.86 187.23,82.94 187.48,83.03 187.72,83.11 187.97,83.20 188.21,83.28 188.46,83.36 188.71,83.45 188.95,83.53 189.20,83.62 189.44,83.70 189.69,83.79 189.94,83.87 190.18,83.96 190.43,84.04 190.67,84.13 190.92,84.21 191.17,84.30 191.41,84.38 191.66,84.46 191.90,84.55 192.15,84.63 192.40,84.72 192.64,84.80 192.89,84.89 193.13,84.97 193.38,85.06 193.63,85.14 193.87,85.23 194.12,85.31 194.36,85.40 194.61,85.48 194.86,85.57 195.10,85.65 195.35,85.74 195.60,85.82 195.84,85.91 196.09,85.99 196.33,86.08 196.58,86.16 196.83,86.25 197.07,86.33 197.32,86.42 197.56,86.50 197.81,86.59 198.06,86.67 198.30,86.76 198.55,86.84 198.79,86.93 199.04,87.01 199.29,87.10 199.53,87.18 199.78,87.27 200.02,87.35 200.27,87.44 200.52,87.52 200.76,87.61 201.01,87.69 201.25,87.78 201.50,87.86 201.75,87.95 201.99,88.03 202.24,88.12 202.48,88.20 202.73,88.29 202.98,88.37 203.22,88.46 203.47,88.54 203.71,88.63 203.96,88.71 204.21,88.80 204.45,88.89 204.70,88.97 204.94,89.06 205.19,89.14 205.44,89.23 205.68,89.31 205.93,89.40 206.17,89.48 206.42,89.57 206.67,89.65 206.91,89.74 207.16,89.82 207.40,89.91 207.65,90.00 207.90,90.08 208.14,90.17 208.39,90.25 208.63,90.34 208.88,90.42 209.13,90.51 209.37,90.59 209.62,90.68 209.86,90.77 210.11,90.85 210.36,90.94 210.60,91.02 210.85,91.11 211.09,91.19 211.34,91.28 211.59,91.37 211.83,91.45 212.08,91.54 212.32,91.62 212.57,91.71 212.82,91.79 213.06,91.88 213.31,91.97 213.55,92.05 213.80,92.14 214.05,92.22 214.29,92.31 214.54,92.39 214.78,92.48 215.03,92.57 215.28,92.65 215.52,92.74 215.77,92.82 216.01,92.91 216.26,93.00 216.51,93.08 216.75,93.17 217.00,93.25 217.24,93.34 217.49,93.43 217.74,93.51 217.98,93.60 218.23,93.68 218.47,93.77 218.72,93.86 218.97,93.94 219.21,94.03 219.46,94.11 219.70,94.20 219.95,94.29 220.20,94.37 220.44,94.46 220.69,94.55 220.93,94.63 221.18,94.72 221.43,94.80 221.67,94.89 221.92,94.98 222.16,95.06 222.41,95.15 222.66,95.24 222.90,95.32 223.15,95.41 223.39,95.49 223.64,95.58 223.89,95.67 224.13,95.75 224.38,95.84 224.62,95.93 224.87,96.01 225.12,96.10 225.36,96.19 225.61,96.27 225.85,96.36 226.10,96.45 226.35,96.53 226.59,96.62 226.84,96.70 227.08,96.79 227.33,96.88 227.58,96.96 227.82,97.05 228.07,97.14 228.31,97.22 228.56,97.31 228.81,97.40 229.05,97.48 229.30,97.57 229.54,97.66 229.79,97.74 230.04,97.83 230.28,97.92 230.53,98.00 230.77,98.09 231.02,98.18 231.27,98.27 231.51,98.35 231.76,98.44 232.00,98.53 232.25,98.61 232.50,98.70 232.74,98.79 232.99,98.87 233.23,98.96 233.48,99.05 233.73,99.13 233.97,99.22 234.22,99.31 234.46,99.39 234.71,99.48 234.96,99.57 235.20,99.66 235.45,99.74 235.69,99.83 235.94,99.92 236.19,100.00 236.43,100.09 236.68,100.18 236.93,100.27 237.17,100.35 237.42,100.44 237.66,100.53 237.91,100.61 238.16,100.70 238.40,100.79 238.65,100.88 238.89,100.96 239.14,101.05 239.39,101.14 239.63,101.23 239.88,101.31 240.12,101.40 240.37,101.49 240.62,101.57 240.86,101.66 241.11,101.75 241.35,101.84 241.60,101.92 241.85,102.01 242.09,102.10 242.34,102.19 242.58,102.27 242.83,102.36 243.08,102.45 243.32,102.54 243.57,102.62 243.81,102.71 244.06,102.80 244.31,102.89 244.55,102.98 244.80,103.06 245.04,103.15 245.29,103.24 245.54,103.33 245.78,103.41 246.03,103.50 246.27,103.59 246.52,103.68 246.77,103.76 247.01,103.85 247.26,103.94 247.50,104.03 247.75,104.12 248.00,104.20 248.24,104.29 248.49,104.38 248.73,104.47 248.98,104.56 249.23,104.64 249.47,104.73 249.72,104.82 249.96,104.91 250.21,105.00 250.46,105.08 250.70,105.17 250.95,105.26 251.19,105.35 251.44,105.44 251.69,105.52 251.93,105.61 252.18,105.70 252.42,105.79 252.67,105.88 252.92,105.96 253.16,106.05 253.41,106.14 253.65,106.23 253.90,106.32 254.15,106.41 254.39,106.49 254.64,106.58 254.88,106.67 255.13,106.76 255.38,106.85 255.62,106.94 255.87,107.02 256.11,107.11 256.36,107.20 256.61,107.29 256.85,107.38 257.10,107.47 257.34,107.55 257.59,107.64 257.84,107.73 258.08,107.82 258.33,107.91 258.57,108.00 258.82,108.09 259.07,108.17 259.31,108.26 259.56,108.35 259.80,108.44 260.05,108.53 260.30,108.62 260.54,108.71 260.79,108.80 261.03,108.88 261.28,108.97 261.53,109.06 261.77,109.15 262.02,109.24 262.26,109.33 262.51,109.42 262.76,109.51 263.00,109.59 263.25,109.68 263.49,109.77 263.74,109.86 263.99,109.95 264.23,110.04 264.48,110.13 264.72,110.22 264.97,110.31 265.22,110.40 265.46,110.48 265.71,110.57 265.95,110.66 266.20,110.75 266.45,110.84 266.69,110.93 266.94,111.02 267.18,111.11 267.43,111.20 267.68,111.29 267.92,111.38 268.17,111.46 268.41,111.55 268.66,111.64 268.91,111.73 269.15,111.82 269.40,111.91 269.64,112.00 269.89,112.09 270.14,112.18 270.38,112.27 270.63,112.36 270.87,112.45 271.12,112.54 271.37,112.63 271.61,112.72 271.86,112.81 272.10,112.90 272.35,112.98 272.60,113.07 272.84,113.16 273.09,113.25 273.33,113.34 273.58,113.43 273.83,113.52 274.07,113.61 274.32,113.70 274.56,113.79 274.81,113.88 275.06,113.97 275.30,114.06 275.55,114.15 275.79,114.24 276.04,114.33 276.29,114.42 276.53,114.51 276.78,114.60 277.03,114.69 277.27,114.78 277.52,114.87 277.76,114.96 278.01,115.05 278.26,115.14 278.50,115.23 278.75,115.32 278.99,115.41 279.24,115.50 279.49,115.59 279.73,115.68 279.98,115.77 280.22,115.86 280.47,115.95 280.72,116.04 280.96,116.13 281.21,116.22 281.45,116.31 281.70,116.40 281.95,116.49 282.19,116.58 282.44,116.67 282.68,116.76 282.93,116.85 283.18,116.94 283.42,117.03 283.67,117.12 283.91,117.22 284.16,117.31 284.41,117.40 284.65,117.49 284.90,117.58 285.14,117.67 285.39,117.76 285.64,117.85 285.88,117.94 286.13,118.03 286.37,118.12 286.62,118.21 286.87,118.30 287.11,118.39 287.36,118.48 287.60,118.57 287.85,118.66 288.10,118.76 288.34,118.85 288.59,118.94 288.83,119.03 289.08,119.12 289.33,119.21 289.57,119.30 289.82,119.39 290.06,119.48 290.31,119.57 290.56,119.66 290.80,119.76 291.05,119.85 291.29,119.94 291.54,120.03 291.79,120.12 292.03,120.21 292.28,120.30 292.52,120.39 292.77,120.48 293.02,120.58 293.26,120.67 293.51,120.76 293.75,120.85 294.00,120.94 294.25,121.03 294.49,121.12 294.74,121.21 294.98,121.31 295.23,121.40 295.48,121.49 295.72,121.58 295.97,121.67 296.21,121.76 296.46,121.85 296.71,121.95 296.95,122.04 297.20,122.13 297.44,122.22 297.69,122.31 297.94,122.40 298.18,122.49 298.43,122.59 298.67,122.68 298.92,122.77 299.17,122.86 299.41,122.95 299.66,123.04 299.90,123.14 300.15,123.23 300.40,123.32 300.64,123.41 300.89,123.50 301.13,123.60 301.38,123.69 301.63,123.78 301.87,123.87 302.12,123.96 302.36,124.05 302.61,124.15 302.86,124.24 303.10,124.33 303.35,124.42 303.59,124.52 303.84,124.61 304.09,124.70 304.33,124.79 304.58,124.88 304.82,124.98 305.07,125.07 305.32,125.16 305.56,125.25 305.81,125.34 306.05,125.44 306.30,125.53 306.55,125.62 306.79,125.71 307.04,125.81 307.28,125.90 307.53,125.99 307.78,126.08 308.02,126.18 308.27,126.27 308.51,126.36 308.76,126.45 309.01,126.55 309.25,126.64 309.50,126.73 309.74,126.82 309.99,126.92 310.24,127.01 310.48,127.10 310.73,127.19 310.97,127.29 311.22,127.38 311.47,127.47 311.71,127.57 311.96,127.66 312.20,127.75 312.45,127.84 312.70,127.94 312.94,128.03 313.19,128.12 313.43,128.22 313.68,128.31 313.93,128.40 314.17,128.49 314.42,128.59 314.66,128.68 314.91,128.77 315.16,128.87 315.40,128.96 315.65,129.05 315.89,129.15 316.14,129.24 316.39,129.33 316.63,129.43 316.88,129.52 317.12,129.61 317.37,129.71 317.62,129.80 317.86,129.89 318.11,129.99 318.36,130.08 318.60,130.17 318.85,130.27 319.09,130.36 319.34,130.45 319.59,130.55 319.83,130.64 320.08,130.73 320.32,130.83 320.57,130.92 320.82,131.01 321.06,131.11 321.31,131.20 321.55,131.29 321.80,131.39 322.05,131.48 322.29,131.58 322.54,131.67 322.78,131.76 323.03,131.86 323.28,131.95 323.52,132.04 323.77,132.14 324.01,132.23 324.26,132.33 324.51,132.42 324.75,132.51 325.00,132.61 325.24,132.70 325.49,132.80 325.74,132.89 325.98,132.98 326.23,133.08 326.47,133.17 326.72,133.27 326.97,133.36 327.21,133.46 327.46,133.55 327.70,133.64 327.95,133.74 328.20,133.83 328.44,133.93 328.69,134.02 328.93,134.12 329.18,134.21 329.43,134.30 329.67,134.40 329.92,134.49 330.16,134.59 330.41,134.68 330.66,134.78 330.90,134.87 331.15,134.97 331.39,135.06 331.64,135.16 331.89,135.25 332.13,135.34 332.38,135.44 332.62,135.53 332.87,135.63 333.12,135.72 333.36,135.82 333.61,135.91 333.85,136.01 334.10,136.10 334.35,136.20 334.59,136.29 334.84,136.39 335.08,136.48 335.33,136.58 335.58,136.67 335.82,136.77 336.07,136.86 336.31,136.96 336.56,137.05 336.81,137.15 337.05,137.24 337.30,137.34 337.54,137.43 337.79,137.53 338.04,137.62 338.28,137.72 338.53,137.82 338.77,137.91 339.02,138.01 339.27,138.10 339.51,138.20 339.76,138.29 340.00,138.39 340.25,138.48 340.50,138.58 340.74,138.67 340.99,138.77 341.23,138.87 341.48,138.96 341.73,139.06 341.97,139.15 342.22,139.25 342.46,139.34 342.71,139.44 342.96,139.54 343.20,139.63 343.45,139.73 343.69,139.82 343.94,139.92 344.19,140.01 344.43,140.11 344.68,140.21 344.92,140.30 345.17,140.40 345.42,140.49 345.66,140.59 345.91,140.69 346.15,140.78 346.40,140.88 346.65,140.98 346.89,141.07 347.14,141.17 347.38,141.26 347.63,141.36 347.88,141.46 348.12,141.55 348.37,141.65 348.61,141.75 348.86,141.84 349.11,141.94 349.35,142.03 349.60,142.13 349.84,142.23 350.09,142.32 350.34,142.42 350.58,142.52 350.83,142.61 351.07,142.71 351.32,142.81 351.57,142.90 351.81,143.00 352.06,143.10 352.30,143.19 352.55,143.29 352.80,143.39 353.04,143.48 353.29,143.58 353.53,143.68 353.78,143.78 354.03,143.87 354.27,143.97 354.52,144.07 354.76,144.16 355.01,144.26 355.26,144.36 355.50,144.45 355.75,144.55 355.99,144.65 356.24,144.75 356.49,144.84 356.73,144.94 356.98,145.04 357.22,145.13 357.47,145.23 357.72,145.33 357.96,145.43 358.21,145.52 358.46,145.62 358.70,145.72 358.95,145.82 359.19,145.91 359.44,146.01 359.69,146.11 359.93,146.21 360.18,146.30 360.42,146.40 360.67,146.50 360.92,146.60 361.16,146.70 361.41,146.79 361.65,146.89 361.90,146.99 362.15,147.09 362.39,147.18 362.64,147.28 362.88,147.38 363.13,147.48 363.38,147.58 363.62,147.67 363.87,147.77 364.11,147.87 364.36,147.97 364.61,148.07 364.85,148.16 365.10,148.26 365.34,148.36 365.59,148.46 365.84,148.56 366.08,148.66 366.33,148.75 366.57,148.85 366.82,148.95 367.07,149.05 367.31,149.15 367.56,149.25 367.80,149.34 368.05,149.44 368.30,149.54 368.54,149.64 368.79,149.74 369.03,149.84 369.28,149.94 369.53,150.03 369.77,150.13 370.02,150.23 370.26,150.33 370.51,150.43 370.76,150.53 371.00,150.63 371.25,150.73 371.49,150.82 371.74,150.92 371.99,151.02 372.23,151.12 372.48,151.22 372.72,151.32 372.97,151.42 373.22,151.52 373.46,151.62 373.71,151.72 373.95,151.82 374.20,151.91 374.45,152.01 374.69,152.11 374.94,152.21 375.18,152.31 375.43,152.41 375.68,152.51 375.92,152.61 376.17,152.71 376.41,152.81 376.66,152.91 376.91,153.01 377.15,153.11 377.40,153.21 377.64,153.31 377.89,153.41 378.14,153.51 378.38,153.61 378.63,153.71 378.87,153.81 379.12,153.91 379.37,154.00 379.61,154.10 379.86,154.20 380.10,154.30 380.35,154.40 380.60,154.50 380.84,154.60 381.09,154.70 381.33,154.80 381.58,154.90 381.83,155.00 382.07,155.11 382.32,155.21 382.56,155.31 382.81,155.41 383.06,155.51 383.30,155.61 383.55,155.71 383.79,155.81 384.04,155.91 384.29,156.01 384.53,156.11 384.78,156.21 385.02,156.31 385.27,156.41 385.52,156.51 385.76,156.61 386.01,156.71 386.25,156.81 386.50,156.91 386.75,157.01 386.99,157.11 387.24,157.22 387.48,157.32 387.73,157.42 387.98,157.52 388.22,157.62 388.47,157.72 388.71,157.82 388.96,157.92 389.21,158.02 389.45,158.12 389.70,158.23 389.94,158.33 390.19,158.43 390.44,158.53 390.68,158.63 390.93,158.73 391.17,158.83 391.42,158.93 391.67,159.03 391.91,159.14 392.16,159.24 392.40,159.34 392.65,159.44 392.90,159.54 393.14,159.64 393.39,159.75 393.63,159.85 393.88,159.95 394.13,160.05 394.37,160.15 394.62,160.25 394.86,160.36 395.11,160.46 395.36,160.56 395.60,160.66 395.85,160.76 396.09,160.86 396.34,160.97 396.59,161.07 396.83,161.17 397.08,161.27 397.32,161.37 397.57,161.48 397.82,161.58 398.06,161.68 398.31,161.78 398.56,161.89 398.80,161.99 399.05,162.09 399.29,162.19 399.54,162.29 399.79,162.40 400.03,162.50 400.28,162.60 400.52,162.70 400.77,162.81 401.02,162.91 401.26,163.01 401.51,163.11 401.75,163.22 402.00,163.32 402.25,163.42 402.49,163.53 402.74,163.63 402.98,163.73 403.23,163.83 403.48,163.94 403.72,164.04 403.97,164.14 404.21,164.25 404.46,164.35 404.71,164.45 404.95,164.55 405.20,164.66 405.44,164.76 405.69,164.86 405.94,164.97 406.18,165.07 406.43,165.17 406.67,165.28 406.92,165.38 407.17,165.48 407.41,165.59 407.66,165.69 407.90,165.79 408.15,165.90 408.40,166.00 408.64,166.11 408.89,166.21 409.13,166.31 409.38,166.42 409.63,166.52 409.87,166.62 410.12,166.73 410.36,166.83 410.61,166.93 410.86,167.04 411.10,167.14 411.35,167.25 411.59,167.35 411.84,167.45 412.09,167.56 412.33,167.66 412.58,167.77 412.82,167.87 413.07,167.98 413.32,168.08 413.56,168.18 413.81,168.29 414.05,168.39 414.30,168.50 414.55,168.60 414.79,168.71 415.04,168.81 415.28,168.91 415.53,169.02 415.78,169.12 416.02,169.23 416.27,169.33 416.51,169.44 416.76,169.54 417.01,169.65 417.25,169.75 417.50,169.86 417.74,169.96 417.99,170.07 418.24,170.17 418.48,170.28 418.73,170.38 418.97,170.49 419.22,170.59 419.47,170.70 419.71,170.80 419.96,170.91 420.20,171.01 420.45,171.12 420.70,171.22 420.94,171.33 421.19,171.43 421.43,171.54 421.68,171.64 421.93,171.75 422.17,171.85 422.42,171.96 422.66,172.07 422.91,172.17 423.16,172.28 423.40,172.38 423.65,172.49 423.89,172.59 424.14,172.70 424.39,172.80 424.63,172.91 424.88,173.02 425.12,173.12 425.37,173.23 425.62,173.33 425.86,173.44 426.11,173.55 426.35,173.65 426.60,173.76 426.85,173.86 427.09,173.97 427.34,174.08 427.58,174.18 427.83,174.29 428.08,174.40 428.32,174.50 428.57,174.61 428.81,174.72 429.06,174.82 429.31,174.93 429.55,175.03 429.80,175.14 430.04,175.25 430.29,175.35 430.54,175.46 430.78,175.57 431.03,175.67 431.27,175.78 431.52,175.89 431.77,176.00 432.01,176.10 432.26,176.21 432.50,176.32 432.75,176.42 433.00,176.53 433.24,176.64 433.49,176.74 433.73,176.85 433.98,176.96 434.23,177.07 434.47,177.17 434.72,177.28 434.96,177.39 435.21,177.50 435.46,177.60 435.70,177.71 435.95,177.82 436.19,177.93 436.44,178.03 436.69,178.14 436.93,178.25 437.18,178.36 437.42,178.46 437.67,178.57 437.92,178.68 438.16,178.79 438.41,178.89 438.65,179.00 438.90,179.11 439.15,179.22 439.39,179.33 439.64,179.43 439.89,179.54 440.13,179.65 440.38,179.76 440.62,179.87 440.87,179.98 441.12,180.08 441.36,180.19 441.61,180.30 441.85,180.41 442.10,180.52 442.35,180.63 442.59,180.73 442.84,180.84 443.08,180.95 443.33,181.06 443.58,181.17 443.82,181.28 444.07,181.39 444.31,181.50 444.56,181.60 444.81,181.71 445.05,181.82 445.30,181.93 445.54,182.04 445.79,182.15 446.04,182.26 446.28,182.37 446.53,182.48 446.77,182.59 447.02,182.69 447.27,182.80 447.51,182.91 447.76,183.02 448.00,183.13 448.25,183.24 448.50,183.35 448.74,183.46 448.99,183.57 449.23,183.68 449.48,183.79 449.73,183.90 449.97,184.01 450.22,184.12 450.46,184.23 450.71,184.34 450.96,184.45 451.20,184.56 451.45,184.67 451.69,184.78 451.94,184.89 452.19,185.00 452.43,185.11 452.68,185.22 452.92,185.33 453.17,185.44 453.42,185.55 453.66,185.66 453.91,185.77 454.15,185.88 454.40,185.99 454.65,186.10 454.89,186.21 455.14,186.32 455.38,186.43 455.63,186.54 455.88,186.65 456.12,186.76 456.37,186.87 456.61,186.99 456.86,187.10 457.11,187.21 457.35,187.32 457.60,187.43 457.84,187.54 458.09,187.65 458.34,187.76 458.58,187.87 458.83,187.98 459.07,188.10 459.32,188.21 459.57,188.32 459.81,188.43 460.06,188.54 460.30,188.65 460.55,188.76 460.80,188.88 461.04,188.99 461.29,189.10 461.53,189.21 461.78,189.32 462.03,189.43 462.27,189.54 462.52,189.66 462.76,189.77 463.01,189.88 463.26,189.99 463.50,190.10 463.75,190.22 463.99,190.33 464.24,190.44 464.49,190.55 464.73,190.66 464.98,190.78 465.22,190.89 465.47,191.00 465.72,191.11 465.96,191.23 466.21,191.34 466.45,191.45 466.70,191.56 466.95,191.68 467.19,191.79 467.44,191.90 467.68,192.01 467.93,192.13 468.18,192.24 468.42,192.35 468.67,192.46 468.91,192.58 469.16,192.69 469.41,192.80 469.65,192.92 469.90,193.03 470.14,193.14 470.39,193.26 470.64,193.37 470.88,193.48 471.13,193.60 471.37,193.71 471.62,193.82 471.87,193.94 472.11,194.05 472.36,194.16 472.60,194.28 472.85,194.39 473.10,194.50 473.34,194.62 473.59,194.73 473.83,194.84 474.08,194.96 474.33,195.07 474.57,195.19 474.82,195.30 475.06,195.41 475.31,195.53 475.56,195.64 475.80,195.76 476.05,195.87 476.29,195.98 476.54,196.10 476.79,196.21 477.03,196.33 477.28,196.44 477.52,196.56 477.77,196.67 478.02,196.79 478.26,196.90 478.51,197.01 478.75,197.13 479.00,197.24 479.25,197.36 479.49,197.47 479.74,197.59 479.99,197.70 480.23,197.82 480.48,197.93 480.72,198.05 480.97,198.16 481.22,198.28 481.46,198.39 481.71,198.51 481.95,198.62 482.20,198.74 482.45,198.85 482.69,198.97 482.94,199.08 483.18,199.20 483.43,199.32 483.68,199.43 483.92,199.55 484.17,199.66 484.41,199.78 484.66,199.89 484.91,200.01 485.15,200.13 485.40,200.24 485.64,200.36 485.89,200.47 486.14,200.59 486.38,200.71 486.63,200.82 486.87,200.94 487.12,201.05 487.37,201.17 487.61,201.29 487.86,201.40 488.10,201.52 488.35,201.64 488.60,201.75 488.84,201.87 489.09,201.98 489.33,202.10 489.58,202.22 489.83,202.33 490.07,202.45 490.32,202.57 490.56,202.69 490.81,202.80 491.06,202.92 491.30,203.04 491.55,203.15 491.79,203.27 492.04,203.39 492.29,203.50 492.53,203.62 492.78,203.74 493.02,203.86 493.27,203.97 493.52,204.09 493.76,204.21 494.01,204.33 494.25,204.44 494.50,204.56 494.75,204.68 494.99,204.80 495.24,204.91 495.48,205.03 495.73,205.15 495.98,205.27 496.22,205.39 496.47,205.50 496.71,205.62 496.96,205.74 497.21,205.86 497.45,205.98 497.70,206.09 497.94,206.21 498.19,206.33 498.44,206.45 498.68,206.57 498.93,206.69 499.17,206.80 499.42,206.92 499.67,207.04 499.91,207.16 500.16,207.28 500.40,207.40 500.65,207.52 500.90,207.64 501.14,207.75 501.39,207.87 501.63,207.99 501.88,208.11 502.13,208.23 502.37,208.35 502.62,208.47 502.86,208.59 503.11,208.71 503.36,208.83 503.60,208.95 503.85,209.07 504.09,209.19 504.34,209.31 504.59,209.43 504.83,209.54 505.08,209.66 505.32,209.78 505.57,209.90 505.82,210.02 506.06,210.14 506.31,210.26 506.55,210.38 506.80,210.50 507.05,210.62 507.29,210.74 507.54,210.86 507.78,210.98 508.03,211.11 508.28,211.23 508.52,211.35 508.77,211.47 509.01,211.59 509.26,211.71 509.51,211.83 509.75,211.95 510.00,212.07 510.24,212.19 510.49,212.31 510.74,212.43 510.98,212.55 511.23,212.67 511.47,212.80 511.72,212.92 511.97,213.04 512.21,213.16 512.46,213.28 512.70,213.40 512.95,213.52 513.20,213.64 513.44,213.77 513.69,213.89 513.93,214.01 514.18,214.13 514.43,214.25 514.67,214.37 514.92,214.50 515.16,214.62 515.41,214.74 515.66,214.86 515.90,214.98 516.15,215.11 516.39,215.23 516.64,215.35 516.89,215.47 517.13,215.59 517.38,215.72 517.62,215.84 517.87,215.96 518.12,216.08 518.36,216.21 518.61,216.33 518.85,216.45 519.10,216.57 519.35,216.70 519.59,216.82 519.84,216.94 520.08,217.07 520.33,217.19 520.58,217.31 520.82,217.43 521.07,217.56 521.32,217.68 521.56,217.80 521.81,217.93 522.05,218.05 522.30,218.17 522.55,218.30 522.79,218.42 523.04,218.54 523.28,218.67 523.53,218.79 523.78,218.92 524.02,219.04 524.27,219.16 524.51,219.29 524.76,219.41 525.01,219.53 525.25,219.66 525.50,219.78 525.74,219.91 525.99,220.03 526.24,220.16 526.48,220.28 526.73,220.40 526.97,220.53 527.22,220.65 527.47,220.78 527.71,220.90 527.96,221.03 528.20,221.15 528.45,221.28 528.70,221.40 528.94,221.53 529.19,221.65 529.43,221.78 529.68,221.90 529.93,222.03 530.17,222.15 530.42,222.28 530.66,222.40 530.91,222.53 531.16,222.65 531.40,222.78 531.65,222.90 531.89,223.03 532.14,223.15 532.39,223.28 532.63,223.41 532.88,223.53 533.12,223.66 533.37,223.78 533.62,223.91 533.86,224.04 534.11,224.16 534.35,224.29 534.60,224.41 534.85,224.54 535.09,224.67 535.34,224.79 535.58,224.92 535.83,225.05 536.08,225.17 536.32,225.30 536.57,225.43 536.81,225.55 537.06,225.68 537.31,225.81 537.55,225.93 537.80,226.06 538.04,226.19 538.29,226.31 538.54,226.44 538.78,226.57 539.03,226.70 539.27,226.82 539.52,226.95 539.77,227.08 540.01,227.21 540.26,227.33 540.50,227.46 540.75,227.59 541.00,227.72 541.24,227.84 541.49,227.97 541.73,228.10 541.98,228.23 542.23,228.36 542.47,228.48 542.72,228.61 542.96,228.74 543.21,228.87 543.46,229.00 543.70,229.12 543.95,229.25 544.19,229.38 544.44,229.51 544.69,229.64 544.93,229.77 545.18,229.90 545.42,230.03 545.67,230.15 545.92,230.28 546.16,230.41 546.41,230.54 546.65,230.67 546.90,230.80 547.15,230.93 547.39,231.06 547.64,231.19 547.88,231.32 548.13,231.45 548.38,231.58 548.62,231.71 548.87,231.84 549.11,231.96 549.36,232.09 549.61,232.22 549.85,232.35 550.10,232.48 550.34,232.61 550.59,232.74 550.84,232.87 551.08,233.00 551.33,233.14 551.57,233.27 551.82,233.40 552.07,233.53 552.31,233.66 552.56,233.79 552.80,233.92 553.05,234.05 553.30,234.18 553.54,234.31 553.79,234.44 554.03,234.57 554.28,234.70 554.53,234.83 554.77,234.97 555.02,235.10 555.26,235.23 555.51,235.36 555.76,235.49 556.00,235.62 556.25,235.75 556.49,235.89 556.74,236.02 556.99,236.15 557.23,236.28 557.48,236.41 557.72,236.55 557.97,236.68 558.22,236.81 558.46,236.94 558.71,237.07 558.95,237.21 559.20,237.34 559.45,237.47 559.69,237.60 559.94,237.74 560.18,237.87 560.43,238.00 560.68,238.13 560.92,238.27 561.17,238.40 561.42,238.53 561.66,238.67 561.91,238.80 562.15,238.93 562.40,239.06 562.65,239.20 562.89,239.33 563.14,239.46 563.38,239.60 563.63,239.73 563.88,239.87 564.12,240.00 564.37,240.13 564.61,240.27 564.86,240.40 565.11,240.53 565.35,240.67 565.60,240.80 565.84,240.94 566.09,241.07 566.34,241.21 566.58,241.34 566.83,241.47 567.07,241.61 567.32,241.74 567.57,241.88 567.81,242.01 568.06,242.15 568.30,242.28 568.55,242.42 568.80,242.55 569.04,242.69 569.29,242.82 569.53,242.96 569.78,243.09 570.03,243.23 570.27,243.36 570.52,243.50 570.76,243.63 571.01,243.77 571.26,243.91 571.50,244.04 571.75,244.18 571.99,244.31 572.24,244.45 572.49,244.58 572.73,244.72 572.98,244.86 573.22,244.99 573.47,245.13 573.72,245.27 573.96,245.40 574.21,245.54 574.45,245.68 574.70,245.81 574.95,245.95 575.19,246.09 575.44,246.22 575.68,246.36 575.93,246.50 576.18,246.63 576.42,246.77 576.67,246.91 576.91,247.04 577.16,247.18 577.41,247.32 577.65,247.46 577.90,247.59 578.14,247.73 578.39,247.87 578.64,248.01 578.88,248.15 579.13,248.28 579.37,248.42 579.62,248.56 579.87,248.70 580.11,248.84 580.36,248.97 580.60,249.11 580.85,249.25 581.10,249.39 581.34,249.53 581.59,249.67 581.83,249.81 582.08,249.94 582.33,250.08 582.57,250.22 582.82,250.36 583.06,250.50 583.31,250.64 583.56,250.78 583.80,250.92 584.05,251.06 584.29,251.20 584.54,251.34 584.79,251.48 585.03,251.62 585.28,251.76 585.52,251.90 585.77,252.04 586.02,252.18 586.26,252.32 586.51,252.46 586.75,252.60 587.00,252.74 587.25,252.88 587.49,253.02 587.74,253.16 587.98,253.30 588.23,253.44 588.48,253.58 588.72,253.72 588.97,253.86 589.21,254.00 589.46,254.14 589.71,254.29 589.95,254.43 590.20,254.57 590.44,254.71 590.69,254.85 590.94,254.99 591.18,255.13 591.43,255.28 591.67,255.42 591.92,255.56 592.17,255.70 592.41,255.84 592.66,255.99 592.90,256.13 593.15,256.27 593.40,256.41 593.64,256.55 593.89,256.70 594.13,256.84 594.38,256.98 594.63,257.13 594.87,257.27 595.12,257.41 595.36,257.55 595.61,257.70 595.86,257.84 596.10,257.98 596.35,258.13 596.59,258.27 596.84,258.41 597.09,258.56 597.33,258.70 597.58,258.84 597.82,258.99 598.07,259.13 598.32,259.28 598.56,259.42 598.81,259.56 599.05,259.71 599.30,259.85 599.55,260.00 599.79,260.14 600.04,260.29 600.28,260.43 600.53,260.58 600.78,260.72 601.02,260.86 601.27,261.01 601.51,261.15 601.76,261.30 602.01,261.44 602.25,261.59 602.50,261.74 602.75,261.88 602.99,262.03 603.24,262.17 603.48,262.32 603.73,262.46 603.98,262.61 604.22,262.76 604.47,262.90 604.71,263.05 604.96,263.19 605.21,263.34 605.45,263.49 605.70,263.63 605.94,263.78 606.19,263.93 606.44,264.07 606.68,264.22 606.93,264.37 607.17,264.51 607.42,264.66 607.67,264.81 607.91,264.95 608.16,265.10 608.40,265.25 608.65,265.40 608.90,265.54 609.14,265.69 609.39,265.84 609.63,265.99 609.88,266.14 610.13,266.28 610.37,266.43 610.62,266.58 610.86,266.73 611.11,266.88 611.36,267.03 611.60,267.17 611.85,267.32 612.09,267.47 612.34,267.62 612.59,267.77 612.83,267.92 613.08,268.07 613.32,268.22 613.57,268.37 613.82,268.51 614.06,268.66 614.31,268.81 614.55,268.96 614.80,269.11 615.05,269.26 615.29,269.41 615.54,269.56 615.78,269.71 616.03,269.86 616.28,270.01 616.52,270.16 616.77,270.31 617.01,270.46 617.26,270.62 617.51,270.77 617.75,270.92 618.00,271.07 618.24,271.22 618.49,271.37 618.74,271.52 618.98,271.67 619.23,271.82 619.47,271.98 619.72,272.13 619.97,272.28 620.21,272.43 620.46,272.58 620.70,272.73 620.95,272.89 621.20,273.04 621.44,273.19 621.69,273.34 621.93,273.50 622.18,273.65 622.43,273.80 622.67,273.95 622.92,274.11 623.16,274.26 623.41,274.41 623.66,274.56 623.90,274.72 624.15,274.87 624.39,275.02 624.64,275.18 624.89,275.33 625.13,275.49 625.38,275.64 625.62,275.79 625.87,275.95 626.12,276.10 626.36,276.25 626.61,276.41 626.85,276.56 627.10,276.72 627.35,276.87 627.59,277.03 627.84,277.18 628.08,277.34 628.33,277.49 628.58,277.65 628.82,277.80 629.07,277.96 629.31,278.11 629.56,278.27 629.81,278.42 630.05,278.58 630.30,278.73 630.54,278.89 630.79,279.05 631.04,279.20 631.28,279.36 631.53,279.52 631.77,279.67 632.02,279.83 632.27,279.98 632.51,280.14 632.76,280.30 633.00,280.45 633.25,280.61 633.50,280.77 633.74,280.93 633.99,281.08 634.23,281.24 634.48,281.40 634.73,281.56 634.97,281.71 635.22,281.87 635.46,282.03 635.71,282.19 635.96,282.35 636.20,282.50 636.45,282.66 636.69,282.82 636.94,282.98 637.19,283.14 637.43,283.30 637.68,283.46 637.92,283.61 638.17,283.77 638.42,283.93 638.66,284.09 638.91,284.25 639.15,284.41 639.40,284.57 639.65,284.73 639.89,284.89 640.14,285.05 640.38,285.21 640.63,285.37 640.88,285.53 641.12,285.69 641.37,285.85 641.61,286.01 641.86,286.17 642.11,286.33 642.35,286.49 642.60,286.66 642.85,286.82 643.09,286.98 643.34,287.14 643.58,287.30 643.83,287.46 644.08,287.62 644.32,287.79 644.57,287.95 644.81,288.11 645.06,288.27 645.31,288.43 645.55,288.60 645.80,288.76 646.04,288.92 646.29,289.09 646.54,289.25 646.78,289.41 647.03,289.57 647.27,289.74 647.52,289.90 647.77,290.06 648.01,290.23 648.26,290.39 648.50,290.56 648.75,290.72 649.00,290.88 649.24,291.05 649.49,291.21 649.73,291.38 649.98,291.54 650.23,291.71 650.47,291.87 650.72,292.03 650.96,292.20 651.21,292.36 651.46,292.53 651.70,292.70 651.95,292.86 652.19,293.03 652.44,293.19 652.69,293.36 652.93,293.52 653.18,293.69 653.42,293.86 653.67,294.02 653.92,294.19 654.16,294.36 654.41,294.52 654.65,294.69 654.90,294.86 655.15,295.02 655.39,295.19 655.64,295.36 655.88,295.52 656.13,295.69 656.38,295.86 656.62,296.03 656.87,296.20 657.11,296.36 657.36,296.53 657.61,296.70 657.85,296.87 658.10,297.04 658.34,297.21 658.59,297.37 658.84,297.54 659.08,297.71 659.33,297.88 659.57,298.05 659.82,298.22 660.07,298.39 660.31,298.56 660.56,298.73 660.80,298.90 661.05,299.07 661.30,299.24 661.54,299.41 661.79,299.58 662.03,299.75 662.28,299.92 662.53,300.09 662.77,300.26 663.02,300.43 663.26,300.61 663.51,300.78 663.76,300.95 664.00,301.12 664.17,301.24 664.33,301.35 664.49,301.46 664.66,301.58 664.82,301.69 664.99,301.81 665.15,301.92 665.31,302.04 665.48,302.15 665.64,302.27 665.81,302.38 665.97,302.50 666.13,302.61 666.30,302.73 666.46,302.85 666.63,302.96 666.79,303.08 666.95,303.19 667.12,303.31 667.28,303.42 667.45,303.54 667.61,303.65 667.77,303.77 667.94,303.89 668.10,304.00 668.27,304.12 668.43,304.23 668.59,304.35 668.76,304.47 668.92,304.58 669.09,304.70 669.25,304.82 669.41,304.93 669.58,305.05 669.74,305.17 669.91,305.28 670.07,305.40 670.23,305.52 670.40,305.63 670.56,305.75 670.73,305.87 670.89,305.98 671.05,306.10 671.22,306.22 671.38,306.33 671.55,306.45 671.71,306.57 671.87,306.69 672.04,306.80 672.20,306.92 672.37,307.04 672.53,307.16 672.69,307.28 672.86,307.39 673.02,307.51 673.19,307.63 673.35,307.75 673.51,307.86 673.68,307.98 673.84,308.10 674.01,308.22 674.17,308.34 674.33,308.46 674.50,308.57 674.66,308.69 674.83,308.81 674.99,308.93 675.15,309.05 675.32,309.17 675.48,309.29 675.65,309.41 675.81,309.53 675.97,309.64 676.14,309.76 676.30,309.88 676.47,310.00 676.63,310.12 676.79,310.24 676.96,310.36 677.12,310.48 677.29,310.60 677.45,310.72 677.61,310.84 677.78,310.96 677.94,311.08 678.11,311.20 678.27,311.32 678.43,311.44 678.60,311.56 678.76,311.68 678.93,311.80 679.09,311.92 679.25,312.04 679.42,312.16 679.58,312.28 679.75,312.40 679.91,312.52 680.07,312.64 680.24,312.76 680.40,312.89 680.57,313.01 680.73,313.13 680.89,313.25 681.06,313.37 681.22,313.49 681.39,313.61 681.55,313.73 681.71,313.86 681.88,313.98 682.04,314.10 682.21,314.22 682.37,314.34 682.53,314.46 682.70,314.59 682.86,314.71 683.03,314.83 683.19,314.95 683.36,315.07 683.52,315.20 683.68,315.32 683.85,315.44 684.01,315.56 684.18,315.69 684.34,315.81 684.50,315.93 684.67,316.05 684.83,316.18 685.00,316.30 685.16,316.42 685.32,316.55 685.49,316.67 685.65,316.79 685.82,316.92 685.98,317.04 686.14,317.16 686.31,317.29 686.47,317.41 686.64,317.53 686.80,317.66 686.96,317.78 687.13,317.91 687.29,318.03 687.46,318.15 687.62,318.28 687.78,318.40 687.95,318.53 688.11,318.65 688.28,318.77 688.44,318.90 688.60,319.02 688.77,319.15 688.93,319.27 689.10,319.40 689.26,319.52 689.42,319.65 689.59,319.77 689.75,319.90 689.92,320.02 690.08,320.15 690.24,320.27 690.41,320.40 690.57,320.53 690.74,320.65 690.90,320.78 691.06,320.90 691.23,321.03 691.39,321.15 691.56,321.28 691.72,321.41 691.88,321.53 692.05,321.66 692.21,321.79 692.38,321.91 692.54,322.04 692.70,322.16 692.87,322.29 693.03,322.42 693.20,322.54 693.36,322.67 693.52,322.80 693.69,322.93 693.85,323.05 694.02,323.18 694.18,323.31 694.34,323.43 694.51,323.56 694.67,323.69 694.84,323.82 695.00,323.95 695.16,324.07 695.33,324.20 695.49,324.33 695.66,324.46 695.82,324.59 695.98,324.71 696.15,324.84 696.31,324.97 696.48,325.10 696.64,325.23 696.80,325.36 696.97,325.48 697.13,325.61 697.30,325.74 697.46,325.87 697.62,326.00 697.79,326.13 697.95,326.26 698.12,326.39 698.28,326.52 698.44,326.65 698.61,326.78 698.77,326.91 698.94,327.04 699.10,327.17 699.26,327.30 699.43,327.43 699.59,327.56 699.76,327.69 699.92,327.82 700.08,327.95 700.25,328.08 700.41,328.21 700.58,328.34 700.74,328.47 700.90,328.60 701.07,328.73 701.23,328.86 701.40,328.99 701.56,329.12 701.72,329.26 701.89,329.39 702.05,329.52 702.22,329.65 702.38,329.78 702.54,329.91 702.71,330.05 702.87,330.18 703.04,330.31 703.20,330.44 703.36,330.57 703.53,330.71 703.69,330.84 703.86,330.97 704.02,331.10 704.18,331.24 704.35,331.37 704.51,331.50 704.68,331.63 704.84,331.77 705.00,331.90 705.17,332.03 705.33,332.17 705.50,332.30 705.66,332.43 705.82,332.57 705.99,332.70 706.15,332.84 706.32,332.97 706.48,333.10 706.64,333.24 706.81,333.37 706.97,333.51 707.14,333.64 707.30,333.78 707.46,333.91 707.63,334.04 707.79,334.18 707.96,334.31 708.12,334.45 708.28,334.58 708.45,334.72 708.61,334.85 708.78,334.99 708.94,335.13 709.10,335.26 709.27,335.40 709.43,335.53 709.60,335.67 709.76,335.80 709.92,335.94 710.09,336.08 710.25,336.21 710.42,336.35 710.58,336.49 710.74,336.62 710.91,336.76 711.07,336.90 711.24,337.03 711.40,337.17 711.56,337.31 711.73,337.44 711.89,337.58 712.06,337.72 712.22,337.86 712.38,337.99 712.55,338.13 712.71,338.27 712.88,338.41 713.04,338.55 713.20,338.68 713.37,338.82 713.53,338.96 713.70,339.10 713.86,339.24 714.02,339.38 714.19,339.51 714.35,339.65 714.52,339.79 714.68,339.93 714.84,340.07 715.01,340.21 715.17,340.35 715.34,340.49 715.50,340.63 715.66,340.77 715.83,340.91 715.99,341.05 716.16,341.19 716.32,341.33 716.48,341.47 716.65,341.61 716.81,341.75 716.98,341.89 717.14,342.03 717.30,342.17 717.47,342.31 717.63,342.45 717.80,342.60 717.96,342.74 718.12,342.88 718.29,343.02 718.45,343.16 718.62,343.30 718.78,343.45 718.94,343.59 719.11,343.73 719.27,343.87 719.44,344.01 719.60,344.16 719.76,344.30 719.93,344.44 720.09,344.59 720.26,344.73 720.42,344.87 720.58,345.01 720.75,345.16 720.91,345.30 721.08,345.45 721.24,345.59 721.40,345.73 721.57,345.88 721.73,346.02 721.90,346.17 722.06,346.31 722.22,346.45 722.39,346.60 722.55,346.74 722.72,346.89 722.88,347.03 723.04,347.18 723.21,347.32 723.37,347.47 723.54,347.61 723.70,347.76 723.86,347.90 724.03,348.05 724.19,348.20 724.36,348.34 724.52,348.49 724.69,348.64 724.85,348.78 725.01,348.93 725.18,349.07 725.34,349.22 725.51,349.37 725.67,349.52 725.83,349.66 726.00,349.81 726.16,349.96 726.33,350.11 726.49,350.25 726.65,350.40 726.82,350.55 726.98,350.70 727.15,350.85 727.31,350.99 727.47,351.14 727.64,351.29 727.80,351.44 727.97,351.59 728.13,351.74 728.29,351.89 728.46,352.04 728.62,352.19 728.79,352.34 728.95,352.48 729.11,352.63 729.28,352.78 729.44,352.93 729.61,353.09 729.77,353.24 729.93,353.39 730.10,353.54 730.26,353.69 730.43,353.84 730.59,353.99 730.75,354.14 730.92,354.29 731.08,354.44 731.25,354.60 731.41,354.75 731.57,354.90 731.74,355.05 731.90,355.20 732.07,355.36 732.23,355.51 732.39,355.66 732.56,355.81 732.72,355.97 732.89,356.12 733.05,356.27 733.21,356.43 733.38,356.58 733.54,356.74 733.71,356.89 733.87,357.04 734.03,357.20 734.20,357.35 734.36,357.51 734.53,357.66 734.69,357.82 734.85,357.97 735.02,358.13 735.18,358.28 735.35,358.44 735.51,358.59 735.67,358.75 735.84,358.90 736.00,359.06 736.17,359.22 736.33,359.37 736.49,359.53 736.66,359.69 736.82,359.84 736.99,360.00 737.15,360.16 737.31,360.31 737.48,360.47 737.64,360.63 737.81,360.79 737.97,360.94 738.13,361.10 738.30,361.26 738.46,361.42 738.63,361.58 738.79,361.74 738.95,361.90 739.12,362.05 739.28,362.21 739.45,362.37 739.61,362.53 739.77,362.69 739.94,362.85 740.10,363.01 740.27,363.17 740.43,363.33 740.59,363.49 740.76,363.65 740.92,363.82 741.09,363.98 741.25,364.14 741.41,364.30 741.58,364.46 741.74,364.62 741.91,364.79 742.07,364.95 742.23,365.11 742.40,365.27 742.56,365.44 742.73,365.60 742.89,365.76 743.05,365.92 743.22,366.09 743.38,366.25 743.55,366.42 743.71,366.58 743.87,366.74 744.04,366.91 744.20,367.07 744.37,367.24 744.53,367.40 744.69,367.57 744.86,367.73 745.02,367.90 745.19,368.06 745.35,368.23 745.51,368.40 745.68,368.56 745.84,368.73 746.01,368.89 746.17,369.06 746.33,369.23 746.50,369.40 746.66,369.56 746.83,369.73 746.99,369.90 747.15,370.07 747.32,370.23 747.48,370.40 747.65,370.57 747.81,370.74 747.97,370.91 748.14,371.08 748.30,371.25 748.47,371.42 748.63,371.59 748.79,371.76 748.96,371.93 749.12,372.10 749.29,372.27 749.45,372.44 749.61,372.61 749.78,372.78 749.94,372.95 750.11,373.12 750.27,373.30 750.43,373.47 750.60,373.64 750.76,373.81 750.93,373.99 751.09,374.16 751.25,374.33 751.42,374.51 751.58,374.68 751.75,374.85 751.91,375.03 752.07,375.20 752.24,375.38 752.40,375.55 752.57,375.73 752.73,375.90 752.89,376.08 753.06,376.25 753.22,376.43 753.39,376.60 753.55,376.78 753.71,376.96 753.88,377.13 754.04,377.31 754.21,377.49 754.37,377.66 754.53,377.84 754.70,378.02 754.86,378.20 755.03,378.38 755.19,378.56 755.35,378.73 755.52,378.91 755.68,379.09 755.85,379.27 756.01,379.45 756.17,379.63 756.34,379.81 756.50,379.99 756.67,380.17 756.83,380.35 756.99,380.54 757.16,380.72 757.32,380.90 757.49,381.08 757.65,381.26 757.81,381.45 757.98,381.63 758.14,381.81 758.31,382.00 758.47,382.18 758.63,382.36 758.80,382.55 758.96,382.73 759.13,382.92 759.29,383.10 759.45,383.29 759.62,383.47 759.78,383.66 759.95,383.84 760.11,384.03 760.27,384.22 760.44,384.40 760.60,384.59 760.77,384.78 760.93,384.96 761.09,385.15 761.26,385.34 761.42,385.53 761.59,385.72 761.75,385.91 761.91,386.10 762.08,386.29 762.24,386.48 762.41,386.67 762.57,386.86 762.73,387.05 762.90,387.24 763.06,387.43 763.23,387.62 763.39,387.81 763.55,388.01 763.72,388.20 763.88,388.39 764.05,388.58 764.21,388.78 764.37,388.97 764.54,389.17 764.70,389.36 764.87,389.55 765.03,389.75 765.20,389.94 765.36,390.14 765.52,390.34 765.69,390.53 765.85,390.73 766.02,390.93 766.18,391.12 766.34,391.32 766.51,391.52 766.67,391.72 766.84,391.91 767.00,392.11 767.16,392.31 767.33,392.51 767.49,392.71 767.66,392.91 767.82,393.11 767.98,393.31 768.15,393.51 768.31,393.72 768.48,393.92 768.64,394.12 768.80,394.32 768.97,394.53 769.13,394.73 769.30,394.93 769.46,395.14 769.62,395.34 769.79,395.55 769.95,395.75 770.12,395.96 770.28,396.16 770.44,396.37 770.61,396.57 770.77,396.78 770.94,396.99 771.10,397.20 771.26,397.40 771.43,397.61 771.59,397.82 771.76,398.03 771.92,398.24 772.08,398.45 772.25,398.66 772.41,398.87 772.58,399.08 772.74,399.29 772.90,399.51 773.07,399.72 773.23,399.93 773.40,400.14 773.56,400.36 773.72,400.57 773.89,400.79 774.05,401.00 774.22,401.22 774.38,401.43 774.54,401.65 774.71,401.86 774.87,402.08 775.04,402.30 775.20,402.52 775.36,402.73 775.53,402.95 775.69,403.17 775.86,403.39 776.02,403.61 776.18,403.83 776.35,404.05 776.51,404.27 776.68,404.50 776.84,404.72 777.00,404.94 777.17,405.16 777.33,405.39 777.50,405.61 777.66,405.84 777.82,406.06 777.99,406.29 778.15,406.51 778.32,406.74 778.48,406.96 778.64,407.19 778.81,407.42 778.97,407.65 779.14,407.88 779.30,408.11 779.46,408.34 779.63,408.57 779.79,408.80 779.96,409.03 780.12,409.26 780.28,409.49 780.45,409.73 780.61,409.96 780.78,410.19 780.94,410.43 781.10,410.66 781.27,410.90 781.43,411.14 781.60,411.37 781.76,411.61 781.92,411.85 782.09,412.09 782.25,412.32 782.42,412.56 782.58,412.80 782.74,413.05 782.91,413.29 783.07,413.53 783.24,413.77 783.40,414.01 783.56,414.26 783.73,414.50 783.89,414.75 784.06,414.99 784.22,415.24 784.38,415.48 784.55,415.73 784.71,415.98 784.88,416.23 785.04,416.48 785.20,416.73 785.37,416.98 785.53,417.23 785.70,417.48 785.86,417.73 786.02,417.98 786.19,418.24 786.35,418.49 786.52,418.75 786.68,419.00 786.84,419.26 787.01,419.52 787.17,419.77 787.34,420.03 787.50,420.29 787.66,420.55 787.83,420.81 787.99,421.07 788.16,421.34 788.32,421.60 788.48,421.86 788.65,422.13 788.81,422.39 788.98,422.66 789.14,422.92 789.30,423.19 789.47,423.46 789.63,423.73 789.80,424.00 789.96,424.27 790.12,424.54 790.29,424.81 790.45,425.08 790.62,425.36 790.78,425.63 790.94,425.91 791.11,426.18 791.27,426.46 791.44,426.74 791.60,427.02 791.76,427.30 791.93,427.58 792.09,427.86 792.26,428.14 792.42,428.42 792.58,428.71 792.75,428.99 792.91,429.28 793.08,429.56 793.24,429.85 793.40,430.14 793.57,430.43 793.73,430.72 793.90,431.01 794.06,431.30 794.22,431.60 794.39,431.89 794.55,432.19 794.72,432.48 794.88,432.78 795.04,433.08 795.21,433.38 795.37,433.68 795.54,433.98 795.70,434.28 795.86,434.59 796.03,434.89 796.19,435.20 796.36,435.50 796.52,435.81 796.68,436.12 796.85,436.43 797.01,436.74 797.18,437.06 797.34,437.37 797.50,437.69 797.67,438.00 797.83,438.32 798.00,438.64 798.16,438.96 798.32,439.28 798.49,439.60 798.65,439.92 798.82,440.25 798.98,440.58 799.14,440.90 799.31,441.23 799.47,441.56 799.64,441.89 799.80,442.23 799.96,442.56 800.13,442.90 800.29,443.23 800.46,443.57 800.62,443.91 800.78,444.25 800.95,444.60 801.11,444.94 801.28,445.29 801.44,445.63 801.60,445.98 801.77,446.33 801.93,446.69 802.10,447.04 802.26,447.39 802.42,447.75 802.59,448.11 802.75,448.47 802.92,448.83 803.08,449.20 803.16,449.38 803.24,449.56 803.33,449.74 803.41,449.93 803.49,450.11 803.57,450.30 803.65,450.48 803.74,450.67 803.82,450.85 803.90,451.04 803.98,451.23 804.06,451.41 804.15,451.60 804.23,451.79 804.31,451.98 804.39,452.17 804.47,452.36 804.56,452.55 804.64,452.74 804.72,452.93 804.80,453.12 804.88,453.31 804.97,453.51 805.05,453.70 805.13,453.89 805.21,454.09 805.30,454.28 805.38,454.48 805.46,454.67 805.54,454.87 805.62,455.06 805.71,455.26 805.79,455.46 805.87,455.66 805.95,455.86 806.03,456.06 806.12,456.26 806.20,456.46 806.28,456.66 806.36,456.86 806.44,457.06 806.53,457.26 806.61,457.47 806.69,457.67 806.77,457.87 806.85,458.08 806.94,458.28 807.02,458.49 807.10,458.70 807.18,458.90 807.26,459.11 807.35,459.32 807.43,459.53 807.51,459.74 807.59,459.95 807.67,460.16 807.76,460.37 807.84,460.58 807.92,460.80 808.00,461.01 808.08,461.22 808.17,461.44 808.25,461.65 808.33,461.87 808.41,462.09 808.49,462.30 808.58,462.52 808.66,462.74 808.74,462.96 808.82,463.18 808.90,463.40 808.99,463.62 809.07,463.84 809.15,464.07 809.23,464.29 809.31,464.51 809.40,464.74 809.48,464.96 809.56,465.19 809.64,465.42 809.72,465.64 809.81,465.87 809.89,466.10 809.97,466.33 810.05,466.56 810.13,466.79 810.22,467.03 810.30,467.26 810.38,467.49 810.46,467.73 810.54,467.96 810.63,468.20 810.71,468.44 810.79,468.67 810.87,468.91 810.95,469.15 811.04,469.39 811.12,469.63 811.20,469.88 811.28,470.12 811.36,470.36 811.45,470.61 811.53,470.85 811.61,471.10 811.69,471.35 811.77,471.60 811.86,471.85 811.94,472.10 812.02,472.35 812.10,472.60 812.18,472.85 812.27,473.11 812.35,473.36 812.43,473.62 812.51,473.87 812.59,474.13 812.68,474.39 812.76,474.65 812.84,474.91 812.92,475.17 813.00,475.44 813.09,475.70 813.17,475.97 813.25,476.23 813.33,476.50 813.41,476.77 813.50,477.04 813.58,477.31 813.66,477.58 813.74,477.85 813.82,478.13 813.91,478.40 813.99,478.68 814.07,478.95 814.15,479.23 814.23,479.51 814.32,479.79 814.40,480.08 814.48,480.36 814.56,480.64 814.64,480.93 814.73,481.22 814.81,481.51 814.89,481.80 814.97,482.09 815.05,482.38 815.14,482.67 815.22,482.97 815.30,483.27 815.38,483.56 815.46,483.86 815.55,484.16 815.63,484.47 815.71,484.77 815.79,485.08 815.87,485.38 815.96,485.69 816.04,486.00 816.12,486.31 816.20,486.63 816.28,486.94 816.37,487.26 816.45,487.57 816.53,487.89 816.61,488.21 816.69,488.54 816.78,488.86 816.86,489.19 816.94,489.51 817.02,489.84 817.10,490.17 817.19,490.51 817.27,490.84 817.35,491.18 817.43,491.52 817.51,491.86 817.60,492.20 817.68,492.55 817.76,492.89 817.84,493.24 817.92,493.59 818.01,493.94 818.09,494.30 818.17,494.65 818.25,495.01 818.33,495.37 818.42,495.74 818.50,496.10 818.58,496.47 818.66,496.84 818.74,497.21 818.83,497.58 818.91,497.96 818.99,498.34 819.07,498.72 819.15,499.11 819.24,499.49 819.32,499.88 819.40,500.27 819.48,500.67 819.56,501.06 819.65,501.46 819.73,501.87 819.81,502.27 819.89,502.68 819.97,503.09 820.06,503.50 820.14,503.92 820.22,504.34 820.30,504.76 820.38,505.19 820.47,505.62 820.55,506.05 820.63,506.49 820.71,506.93 820.79,507.37 820.88,507.82 820.96,508.27 821.04,508.72 821.12,509.18 821.20,509.64 821.29,510.10 821.37,510.57 821.45,511.04 821.53,511.52 821.61,512.00 821.70,512.48 821.78,512.97 821.86,513.47 821.94,513.96 822.02,514.47 822.11,514.97 822.19,515.49 822.27,516.00 822.35,516.52 822.43,517.05 822.52,517.58 822.60,518.12 822.68,518.66 822.76,519.21 822.84,519.76 822.93,520.32 823.01,520.89 823.09,521.46 823.17,522.03 823.25,522.62 823.34,523.21 823.42,523.80 823.50,524.41 823.58,525.02 823.66,525.64 823.75,526.26 823.83,526.89 823.91,527.53 823.99,528.18 824.07,528.84 824.16,529.50 824.24,530.18 824.32,530.86 824.40,531.55 824.48,532.25 824.57,532.96 824.65,533.69 824.73,534.42 824.81,535.16 824.89,535.91 824.98,536.68 825.06,537.46 825.14,538.25 825.22,539.05 825.30,539.87 825.39,540.70 825.47,541.54 825.55,542.40" stroke="#00f" stroke-width="0.85" stroke-dasharray="2.6 3.9" fill="none" marker-start="url(#mstar)" marker-mid="url(#mstar)" marker-end="url(#mstar)"/>
<text x="826" y="100.2" text-anchor="end">current model (alpha=0.3)</text>
<path d="M837.0,94.2H888.9" stroke="#f0f" stroke-width="0.85" stroke-dasharray="1.3 1.96" fill="none"/>
<use href="#sbox" x="862.95" y="94.2"/>
<polyline points="93.50,51.40 93.83,51.51 94.16,51.63 94.48,51.74 94.81,51.86 95.14,51.97 95.47,52.09 95.80,52.20 96.12,52.32 96.45,52.43 96.78,52.55 97.11,52.66 97.44,52.78 97.76,52.89 98.09,53.01 98.42,53.12 98.75,53.24 99.08,53.35 99.40,53.47 99.73,53.58 100.06,53.70 100.39,53.81 100.72,53.93 101.04,54.04 101.37,54.16 101.70,54.27 102.03,54.39 102.36,54.50 102.68,54.62 103.01,54.73 103.34,54.85 103.67,54.96 104.00,55.08 104.32,55.19 104.65,55.31 104.98,55.42 105.31,55.54 105.64,55.66 105.96,55.77 106.29,55.89 106.62,56.00 106.95,56.12 107.28,56.23 107.60,56.35 107.93,56.46 108.26,56.58 108.59,56.69 108.92,56.81 109.24,56.92 109.57,57.04 109.90,57.16 110.23,57.27 110.56,57.39 110.88,57.50 111.21,57.62 111.54,57.73 111.87,57.85 112.20,57.96 112.52,58.08 112.85,58.20 113.18,58.31 113.51,58.43 113.84,58.54 114.16,58.66 114.49,58.77 114.82,58.89 115.15,59.01 115.48,59.12 115.80,59.24 116.13,59.35 116.46,59.47 116.79,59.59 117.12,59.70 117.44,59.82 117.77,59.93 118.10,60.05 118.43,60.16 118.75,60.28 119.08,60.40 119.41,60.51 119.74,60.63 120.07,60.74 120.39,60.86 120.72,60.98 121.05,61.09 121.38,61.21 121.71,61.33 122.03,61.44 122.36,61.56 122.69,61.67 123.02,61.79 123.35,61.91 123.67,62.02 124.00,62.14 124.33,62.25 124.66,62.37 124.99,62.49 125.31,62.60 125.64,62.72 125.97,62.84 126.30,62.95 126.63,63.07 126.95,63.19 127.28,63.30 127.61,63.42 127.94,63.53 128.27,63.65 128.59,63.77 128.92,63.88 129.25,64.00 129.58,64.12 129.91,64.23 130.23,64.35 130.56,64.47 130.89,64.58 131.22,64.70 131.55,64.82 131.87,64.93 132.20,65.05 132.53,65.17 132.86,65.28 133.19,65.40 133.51,65.52 133.84,65.63 134.17,65.75 134.50,65.87 134.83,65.98 135.15,66.10 135.48,66.22 135.81,66.34 136.14,66.45 136.47,66.57 136.79,66.69 137.12,66.80 137.45,66.92 137.78,67.04 138.11,67.15 138.43,67.27 138.76,67.39 139.09,67.51 139.42,67.62 139.75,67.74 140.07,67.86 140.40,67.97 140.73,68.09 141.06,68.21 141.39,68.33 141.71,68.44 142.04,68.56 142.37,68.68 142.70,68.80 143.03,68.91 143.35,69.03 143.68,69.15 144.01,69.26 144.34,69.38 144.67,69.50 144.99,69.62 145.32,69.73 145.65,69.85 145.98,69.97 146.31,70.09 146.63,70.20 146.96,70.32 147.29,70.44 147.62,70.56 147.95,70.67 148.27,70.79 148.60,70.91 148.93,71.03 149.26,71.15 149.59,71.26 149.91,71.38 150.24,71.50 150.57,71.62 150.90,71.73 151.23,71.85 151.55,71.97 151.88,72.09 152.21,72.21 152.54,72.32 152.87,72.44 153.19,72.56 153.52,72.68 153.85,72.80 154.18,72.91 154.51,73.03 154.83,73.15 155.16,73.27 155.49,73.39 155.82,73.50 156.15,73.62 156.47,73.74 156.80,73.86 157.13,73.98 157.46,74.09 157.79,74.21 158.11,74.33 158.44,74.45 158.77,74.57 159.10,74.69 159.43,74.80 159.75,74.92 160.08,75.04 160.41,75.16 160.74,75.28 161.07,75.40 161.39,75.52 161.72,75.63 162.05,75.75 162.38,75.87 162.71,75.99 163.03,76.11 163.36,76.23 163.69,76.34 164.02,76.46 164.35,76.58 164.67,76.70 165.00,76.82 165.33,76.94 165.66,77.06 165.98,77.18 166.31,77.29 166.64,77.41 166.97,77.53 167.30,77.65 167.62,77.77 167.95,77.89 168.28,78.01 168.61,78.13 168.94,78.25 169.26,78.36 169.59,78.48 169.92,78.60 170.25,78.72 170.58,78.84 170.90,78.96 171.23,79.08 171.56,79.20 171.89,79.32 172.22,79.44 172.54,79.56 172.87,79.68 173.20,79.79 173.53,79.91 173.86,80.03 174.18,80.15 174.51,80.27 174.84,80.39 175.17,80.51 175.50,80.63 175.82,80.75 176.15,80.87 176.48,80.99 176.81,81.11 177.14,81.23 177.46,81.35 177.79,81.47 178.12,81.59 178.45,81.71 178.78,81.82 179.10,81.94 179.43,82.06 179.76,82.18 180.09,82.30 180.42,82.42 180.74,82.54 181.07,82.66 181.40,82.78 181.73,82.90 182.06,83.02 182.38,83.14 182.71,83.26 183.04,83.38 183.37,83.50 183.70,83.62 184.02,83.74 184.35,83.86 184.68,83.98 185.01,84.10 185.34,84.22 185.66,84.34 185.99,84.46 186.32,84.58 186.65,84.70 186.98,84.82 187.30,84.94 187.63,85.06 187.96,85.18 188.29,85.30 188.62,85.42 188.94,85.54 189.27,85.67 189.60,85.79 189.93,85.91 190.26,86.03 190.58,86.15 190.91,86.27 191.24,86.39 191.57,86.51 191.90,86.63 192.22,86.75 192.55,86.87 192.88,86.99 193.21,87.11 193.54,87.23 193.86,87.35 194.19,87.47 194.52,87.59 194.85,87.72 195.18,87.84 195.50,87.96 195.83,88.08 196.16,88.20 196.49,88.32 196.82,88.44 197.14,88.56 197.47,88.68 197.80,88.80 198.13,88.92 198.46,89.05 198.78,89.17 199.11,89.29 199.44,89.41 199.77,89.53 200.10,89.65 200.42,89.77 200.75,89.89 201.08,90.01 201.41,90.14 201.74,90.26 202.06,90.38 202.39,90.50 202.72,90.62 203.05,90.74 203.38,90.86 203.70,90.99 204.03,91.11 204.36,91.23 204.69,91.35 205.02,91.47 205.34,91.59 205.67,91.71 206.00,91.84 206.33,91.96 206.66,92.08 206.98,92.20 207.31,92.32 207.64,92.44 207.97,92.57 208.30,92.69 208.62,92.81 208.95,92.93 209.28,93.05 209.61,93.18 209.94,93.30 210.26,93.42 210.59,93.54 210.92,93.66 211.25,93.79 211.58,93.91 211.90,94.03 212.23,94.15 212.56,94.27 212.89,94.40 213.21,94.52 213.54,94.64 213.87,94.76 214.20,94.89 214.53,95.01 214.85,95.13 215.18,95.25 215.51,95.37 215.84,95.50 216.17,95.62 216.49,95.74 216.82,95.86 217.15,95.99 217.48,96.11 217.81,96.23 218.13,96.35 218.46,96.48 218.79,96.60 219.12,96.72 219.45,96.85 219.77,96.97 220.10,97.09 220.43,97.21 220.76,97.34 221.09,97.46 221.41,97.58 221.74,97.70 222.07,97.83 222.40,97.95 222.73,98.07 223.05,98.20 223.38,98.32 223.71,98.44 224.04,98.57 224.37,98.69 224.69,98.81 225.02,98.93 225.35,99.06 225.68,99.18 226.01,99.30 226.33,99.43 226.66,99.55 226.99,99.67 227.32,99.80 227.65,99.92 227.97,100.04 228.30,100.17 228.63,100.29 228.96,100.41 229.29,100.54 229.61,100.66 229.94,100.79 230.27,100.91 230.60,101.03 230.93,101.16 231.25,101.28 231.58,101.40 231.91,101.53 232.24,101.65 232.57,101.77 232.89,101.90 233.22,102.02 233.55,102.15 233.88,102.27 234.21,102.39 234.53,102.52 234.86,102.64 235.19,102.77 235.52,102.89 235.85,103.01 236.17,103.14 236.50,103.26 236.83,103.39 237.16,103.51 237.49,103.63 237.81,103.76 238.14,103.88 238.47,104.01 238.80,104.13 239.13,104.26 239.45,104.38 239.78,104.50 240.11,104.63 240.44,104.75 240.77,104.88 241.09,105.00 241.42,105.13 241.75,105.25 242.08,105.38 242.41,105.50 242.73,105.63 243.06,105.75 243.39,105.87 243.72,106.00 244.05,106.12 244.37,106.25 244.70,106.37 245.03,106.50 245.36,106.62 245.69,106.75 246.01,106.87 246.34,107.00 246.67,107.12 247.00,107.25 247.33,107.37 247.65,107.50 247.98,107.62 248.31,107.75 248.64,107.87 248.97,108.00 249.29,108.12 249.62,108.25 249.95,108.38 250.28,108.50 250.61,108.63 250.93,108.75 251.26,108.88 251.59,109.00 251.92,109.13 252.25,109.25 252.57,109.38 252.90,109.50 253.23,109.63 253.56,109.76 253.89,109.88 254.21,110.01 254.54,110.13 254.87,110.26 255.20,110.38 255.53,110.51 255.85,110.64 256.18,110.76 256.51,110.89 256.84,111.01 257.17,111.14 257.49,111.27 257.82,111.39 258.15,111.52 258.48,111.64 258.81,111.77 259.13,111.90 259.46,112.02 259.79,112.15 260.12,112.27 260.44,112.40 260.77,112.53 261.10,112.65 261.43,112.78 261.76,112.91 262.08,113.03 262.41,113.16 262.74,113.29 263.07,113.41 263.40,113.54 263.72,113.66 264.05,113.79 264.38,113.92 264.71,114.04 265.04,114.17 265.36,114.30 265.69,114.42 266.02,114.55 266.35,114.68 266.68,114.81 267.00,114.93 267.33,115.06 267.66,115.19 267.99,115.31 268.32,115.44 268.64,115.57 268.97,115.69 269.30,115.82 269.63,115.95 269.96,116.08 270.28,116.20 270.61,116.33 270.94,116.46 271.27,116.58 271.60,116.71 271.92,116.84 272.25,116.97 272.58,117.09 272.91,117.22 273.24,117.35 273.56,117.48 273.89,117.60 274.22,117.73 274.55,117.86 274.88,117.99 275.20,118.11 275.53,118.24 275.86,118.37 276.19,118.50 276.52,118.63 276.84,118.75 277.17,118.88 277.50,119.01 277.83,119.14 278.16,119.27 278.48,119.39 278.81,119.52 279.14,119.65 279.47,119.78 279.80,119.91 280.12,120.03 280.45,120.16 280.78,120.29 281.11,120.42 281.44,120.55 281.76,120.67 282.09,120.80 282.42,120.93 282.75,121.06 283.08,121.19 283.40,121.32 283.73,121.45 284.06,121.57 284.39,121.70 284.72,121.83 285.04,121.96 285.37,122.09 285.70,122.22 286.03,122.35 286.36,122.48 286.68,122.60 287.01,122.73 287.34,122.86 287.67,122.99 288.00,123.12 288.32,123.25 288.65,123.38 288.98,123.51 289.31,123.64 289.64,123.76 289.96,123.89 290.29,124.02 290.62,124.15 290.95,124.28 291.28,124.41 291.60,124.54 291.93,124.67 292.26,124.80 292.59,124.93 292.92,125.06 293.24,125.19 293.57,125.32 293.90,125.45 294.23,125.58 294.56,125.71 294.88,125.84 295.21,125.97 295.54,126.10 295.87,126.23 296.20,126.35 296.52,126.48 296.85,126.61 297.18,126.74 297.51,126.87 297.84,127.00 298.16,127.13 298.49,127.26 298.82,127.39 299.15,127.52 299.48,127.66 299.80,127.79 300.13,127.92 300.46,128.05 300.79,128.18 301.12,128.31 301.44,128.44 301.77,128.57 302.10,128.70 302.43,128.83 302.76,128.96 303.08,129.09 303.41,129.22 303.74,129.35 304.07,129.48 304.40,129.61 304.72,129.74 305.05,129.87 305.38,130.00 305.71,130.13 306.04,130.27 306.36,130.40 306.69,130.53 307.02,130.66 307.35,130.79 307.67,130.92 308.00,131.05 308.33,131.18 308.66,131.31 308.99,131.45 309.31,131.58 309.64,131.71 309.97,131.84 310.30,131.97 310.63,132.10 310.95,132.23 311.28,132.36 311.61,132.50 311.94,132.63 312.27,132.76 312.59,132.89 312.92,133.02 313.25,133.15 313.58,133.29 313.91,133.42 314.23,133.55 314.56,133.68 314.89,133.81 315.22,133.95 315.55,134.08 315.87,134.21 316.20,134.34 316.53,134.47 316.86,134.61 317.19,134.74 317.51,134.87 317.84,135.00 318.17,135.13 318.50,135.27 318.83,135.40 319.15,135.53 319.48,135.66 319.81,135.80 320.14,135.93 320.47,136.06 320.79,136.19 321.12,136.33 321.45,136.46 321.78,136.59 322.11,136.72 322.43,136.86 322.76,136.99 323.09,137.12 323.42,137.25 323.75,137.39 324.07,137.52 324.40,137.65 324.73,137.79 325.06,137.92 325.39,138.05 325.71,138.19 326.04,138.32 326.37,138.45 326.70,138.59 327.03,138.72 327.35,138.85 327.68,138.99 328.01,139.12 328.34,139.25 328.67,139.39 328.99,139.52 329.32,139.65 329.65,139.79 329.98,139.92 330.31,140.05 330.63,140.19 330.96,140.32 331.29,140.45 331.62,140.59 331.95,140.72 332.27,140.86 332.60,140.99 332.93,141.12 333.26,141.26 333.59,141.39 333.91,141.53 334.24,141.66 334.57,141.79 334.90,141.93 335.23,142.06 335.55,142.20 335.88,142.33 336.21,142.47 336.54,142.60 336.87,142.73 337.19,142.87 337.52,143.00 337.85,143.14 338.18,143.27 338.51,143.41 338.83,143.54 339.16,143.68 339.49,143.81 339.82,143.95 340.15,144.08 340.47,144.22 340.80,144.35 341.13,144.49 341.46,144.62 341.79,144.76 342.11,144.89 342.44,145.03 342.77,145.16 343.10,145.30 343.43,145.43 343.75,145.57 344.08,145.70 344.41,145.84 344.74,145.97 345.07,146.11 345.39,146.24 345.72,146.38 346.05,146.51 346.38,146.65 346.71,146.79 347.03,146.92 347.36,147.06 347.69,147.19 348.02,147.33 348.35,147.46 348.67,147.60 349.00,147.74 349.33,147.87 349.66,148.01 349.99,148.14 350.31,148.28 350.64,148.42 350.97,148.55 351.30,148.69 351.63,148.82 351.95,148.96 352.28,149.10 352.61,149.23 352.94,149.37 353.27,149.51 353.59,149.64 353.92,149.78 354.25,149.92 354.58,150.05 354.90,150.19 355.23,150.33 355.56,150.46 355.89,150.60 356.22,150.74 356.54,150.87 356.87,151.01 357.20,151.15 357.53,151.28 357.86,151.42 358.18,151.56 358.51,151.70 358.84,151.83 359.17,151.97 359.50,152.11 359.82,152.24 360.15,152.38 360.48,152.52 360.81,152.66 361.14,152.79 361.46,152.93 361.79,153.07 362.12,153.21 362.45,153.34 362.78,153.48 363.10,153.62 363.43,153.76 363.76,153.90 364.09,154.03 364.42,154.17 364.74,154.31 365.07,154.45 365.40,154.59 365.73,154.72 366.06,154.86 366.38,155.00 366.71,155.14 367.04,155.28 367.37,155.41 367.70,155.55 368.02,155.69 368.35,155.83 368.68,155.97 369.01,156.11 369.34,156.25 369.66,156.38 369.99,156.52 370.32,156.66 370.65,156.80 370.98,156.94 371.30,157.08 371.63,157.22 371.96,157.36 372.29,157.49 372.62,157.63 372.94,157.77 373.27,157.91 373.60,158.05 373.93,158.19 374.26,158.33 374.58,158.47 374.91,158.61 375.24,158.75 375.57,158.89 375.90,159.03 376.22,159.17 376.55,159.31 376.88,159.44 377.21,159.58 377.54,159.72 377.86,159.86 378.19,160.00 378.52,160.14 378.85,160.28 379.18,160.42 379.50,160.56 379.83,160.70 380.16,160.84 380.49,160.98 380.82,161.12 381.14,161.26 381.47,161.40 381.80,161.54 382.13,161.68 382.46,161.82 382.78,161.96 383.11,162.11 383.44,162.25 383.77,162.39 384.10,162.53 384.42,162.67 384.75,162.81 385.08,162.95 385.41,163.09 385.74,163.23 386.06,163.37 386.39,163.51 386.72,163.65 387.05,163.79 387.38,163.94 387.70,164.08 388.03,164.22 388.36,164.36 388.69,164.50 389.02,164.64 389.34,164.78 389.67,164.92 390.00,165.07 390.33,165.21 390.66,165.35 390.98,165.49 391.31,165.63 391.64,165.77 391.97,165.92 392.30,166.06 392.62,166.20 392.95,166.34 393.28,166.48 393.61,166.62 393.94,166.77 394.26,166.91 394.59,167.05 394.92,167.19 395.25,167.34 395.58,167.48 395.90,167.62 396.23,167.76 396.56,167.90 396.89,168.05 397.22,168.19 397.54,168.33 397.87,168.47 398.20,168.62 398.53,168.76 398.86,168.90 399.18,169.05 399.51,169.19 399.84,169.33 400.17,169.47 400.50,169.62 400.82,169.76 401.15,169.90 401.48,170.05 401.81,170.19 402.13,170.33 402.46,170.48 402.79,170.62 403.12,170.76 403.45,170.91 403.77,171.05 404.10,171.19 404.43,171.34 404.76,171.48 405.09,171.62 405.41,171.77 405.74,171.91 406.07,172.06 406.40,172.20 406.73,172.34 407.05,172.49 407.38,172.63 407.71,172.77 408.04,172.92 408.37,173.06 408.69,173.21 409.02,173.35 409.35,173.50 409.68,173.64 410.01,173.78 410.33,173.93 410.66,174.07 410.99,174.22 411.32,174.36 411.65,174.51 411.97,174.65 412.30,174.80 412.63,174.94 412.96,175.09 413.29,175.23 413.61,175.38 413.94,175.52 414.27,175.67 414.60,175.81 414.93,175.96 415.25,176.10 415.58,176.25 415.91,176.39 416.24,176.54 416.57,176.68 416.89,176.83 417.22,176.97 417.55,177.12 417.88,177.27 418.21,177.41 418.53,177.56 418.86,177.70 419.19,177.85 419.52,177.99 419.85,178.14 420.17,178.29 420.50,178.43 420.83,178.58 421.16,178.73 421.49,178.87 421.81,179.02 422.14,179.16 422.47,179.31 422.80,179.46 423.13,179.60 423.45,179.75 423.78,179.90 424.11,180.04 424.44,180.19 424.77,180.34 425.09,180.48 425.42,180.63 425.75,180.78 426.08,180.92 426.41,181.07 426.73,181.22 427.06,181.37 427.39,181.51 427.72,181.66 428.05,181.81 428.37,181.95 428.70,182.10 429.03,182.25 429.36,182.40 429.69,182.54 430.01,182.69 430.34,182.84 430.67,182.99 431.00,183.13 431.33,183.28 431.65,183.43 431.98,183.58 432.31,183.73 432.64,183.87 432.97,184.02 433.29,184.17 433.62,184.32 433.95,184.47 434.28,184.62 434.61,184.76 434.93,184.91 435.26,185.06 435.59,185.21 435.92,185.36 436.25,185.51 436.57,185.66 436.90,185.80 437.23,185.95 437.56,186.10 437.89,186.25 438.21,186.40 438.54,186.55 438.87,186.70 439.20,186.85 439.53,187.00 439.85,187.15 440.18,187.29 440.51,187.44 440.84,187.59 441.17,187.74 441.49,187.89 441.82,188.04 442.15,188.19 442.48,188.34 442.81,188.49 443.13,188.64 443.46,188.79 443.79,188.94 444.12,189.09 444.45,189.24 444.77,189.39 445.10,189.54 445.43,189.69 445.76,189.84 446.09,189.99 446.41,190.14 446.74,190.29 447.07,190.44 447.40,190.59 447.73,190.74 448.05,190.89 448.38,191.05 448.71,191.20 449.04,191.35 449.36,191.50 449.69,191.65 450.02,191.80 450.35,191.95 450.68,192.10 451.00,192.25 451.33,192.40 451.66,192.56 451.99,192.71 452.32,192.86 452.64,193.01 452.97,193.16 453.30,193.31 453.63,193.47 453.96,193.62 454.28,193.77 454.61,193.92 454.94,194.07 455.27,194.22 455.60,194.38 455.92,194.53 456.25,194.68 456.58,194.83 456.91,194.99 457.24,195.14 457.56,195.29 457.89,195.44 458.22,195.59 458.55,195.75 458.88,195.90 459.20,196.05 459.53,196.21 459.86,196.36 460.19,196.51 460.52,196.66 460.84,196.82 461.17,196.97 461.50,197.12 461.83,197.28 462.16,197.43 462.48,197.58 462.81,197.74 463.14,197.89 463.47,198.04 463.80,198.20 464.12,198.35 464.45,198.50 464.78,198.66 465.11,198.81 465.44,198.96 465.76,199.12 466.09,199.27 466.42,199.43 466.75,199.58 467.08,199.73 467.40,199.89 467.73,200.04 468.06,200.20 468.39,200.35 468.72,200.51 469.04,200.66 469.37,200.82 469.70,200.97 470.03,201.12 470.36,201.28 470.68,201.43 471.01,201.59 471.34,201.74 471.67,201.90 472.00,202.05 472.32,202.21 472.65,202.36 472.98,202.52 473.31,202.68 473.64,202.83 473.96,202.99 474.29,203.14 474.62,203.30 474.95,203.45 475.28,203.61 475.60,203.76 475.93,203.92 476.26,204.08 476.59,204.23 476.92,204.39 477.24,204.54 477.57,204.70 477.90,204.86 478.23,205.01 478.56,205.17 478.88,205.33 479.21,205.48 479.54,205.64 479.87,205.80 480.20,205.95 480.52,206.11 480.85,206.27 481.18,206.42 481.51,206.58 481.84,206.74 482.16,206.89 482.49,207.05 482.82,207.21 483.15,207.37 483.48,207.52 483.80,207.68 484.13,207.84 484.46,207.99 484.79,208.15 485.12,208.31 485.44,208.47 485.77,208.63 486.10,208.78 486.43,208.94 486.76,209.10 487.08,209.26 487.41,209.42 487.74,209.57 488.07,209.73 488.40,209.89 488.72,210.05 489.05,210.21 489.38,210.37 489.71,210.52 490.04,210.68 490.36,210.84 490.69,211.00 491.02,211.16 491.35,211.32 491.68,211.48 492.00,211.64 492.33,211.80 492.66,211.95 492.99,212.11 493.32,212.27 493.64,212.43 493.97,212.59 494.30,212.75 494.63,212.91 494.96,213.07 495.28,213.23 495.61,213.39 495.94,213.55 496.27,213.71 496.59,213.87 496.92,214.03 497.25,214.19 497.58,214.35 497.91,214.51 498.23,214.67 498.56,214.83 498.89,214.99 499.22,215.15 499.55,215.31 499.87,215.47 500.20,215.64 500.53,215.80 500.86,215.96 501.19,216.12 501.51,216.28 501.84,216.44 502.17,216.60 502.50,216.76 502.83,216.92 503.15,217.09 503.48,217.25 503.81,217.41 504.14,217.57 504.47,217.73 504.79,217.89 505.12,218.06 505.45,218.22 505.78,218.38 506.11,218.54 506.43,218.70 506.76,218.87 507.09,219.03 507.42,219.19 507.75,219.35 508.07,219.52 508.40,219.68 508.73,219.84 509.06,220.00 509.39,220.17 509.71,220.33 510.04,220.49 510.37,220.66 510.70,220.82 511.03,220.98 511.35,221.15 511.68,221.31 512.01,221.47 512.34,221.64 512.67,221.80 512.99,221.96 513.32,222.13 513.65,222.29 513.98,222.45 514.31,222.62 514.63,222.78 514.96,222.95 515.29,223.11 515.62,223.27 515.95,223.44 516.27,223.60 516.60,223.77 516.93,223.93 517.26,224.10 517.59,224.26 517.91,224.43 518.24,224.59 518.57,224.76 518.90,224.92 519.23,225.09 519.55,225.25 519.88,225.42 520.21,225.58 520.54,225.75 520.87,225.91 521.19,226.08 521.52,226.24 521.85,226.41 522.18,226.57 522.51,226.74 522.83,226.91 523.16,227.07 523.49,227.24 523.82,227.40 524.15,227.57 524.47,227.74 524.80,227.90 525.13,228.07 525.46,228.24 525.79,228.40 526.11,228.57 526.44,228.74 526.77,228.90 527.10,229.07 527.43,229.24 527.75,229.40 528.08,229.57 528.41,229.74 528.74,229.91 529.07,230.07 529.39,230.24 529.72,230.41 530.05,230.58 530.38,230.74 530.71,230.91 531.03,231.08 531.36,231.25 531.69,231.42 532.02,231.58 532.35,231.75 532.67,231.92 533.00,232.09 533.33,232.26 533.66,232.43 533.99,232.59 534.31,232.76 534.64,232.93 534.97,233.10 535.30,233.27 535.63,233.44 535.95,233.61 536.28,233.78 536.61,233.95 536.94,234.12 537.27,234.28 537.59,234.45 537.92,234.62 538.25,234.79 538.58,234.96 538.91,235.13 539.23,235.30 539.56,235.47 539.89,235.64 540.22,235.81 540.55,235.98 540.87,236.15 541.20,236.32 541.53,236.49 541.86,236.67 542.19,236.84 542.51,237.01 542.84,237.18 543.17,237.35 543.50,237.52 543.82,237.69 544.15,237.86 544.48,238.03 544.81,238.20 545.14,238.38 545.46,238.55 545.79,238.72 546.12,238.89 546.45,239.06 546.78,239.23 547.10,239.41 547.43,239.58 547.76,239.75 548.09,239.92 548.42,240.10 548.74,240.27 549.07,240.44 549.40,240.61 549.73,240.79 550.06,240.96 550.38,241.13 550.71,241.30 551.04,241.48 551.37,241.65 551.70,241.82 552.02,242.00 552.35,242.17 552.68,242.34 553.01,242.52 553.34,242.69 553.66,242.86 553.99,243.04 554.32,243.21 554.65,243.39 554.98,243.56 555.30,243.73 555.63,243.91 555.96,244.08 556.29,244.26 556.62,244.43 556.94,244.61 557.27,244.78 557.60,244.96 557.93,245.13 558.26,245.31 558.58,245.48 558.91,245.66 559.24,245.83 559.57,246.01 559.90,246.18 560.22,246.36 560.55,246.53 560.88,246.71 561.21,246.89 561.54,247.06 561.86,247.24 562.19,247.41 562.52,247.59 562.85,247.77 563.18,247.94 563.50,248.12 563.83,248.30 564.16,248.47 564.49,248.65 564.82,248.83 565.14,249.00 565.47,249.18 565.80,249.36 566.13,249.53 566.46,249.71 566.78,249.89 567.11,250.07 567.44,250.24 567.77,250.42 568.10,250.60 568.42,250.78 568.75,250.96 569.08,251.13 569.41,251.31 569.74,251.49 570.06,251.67 570.39,251.85 570.72,252.03 571.05,252.20 571.38,252.38 571.70,252.56 572.03,252.74 572.36,252.92 572.69,253.10 573.02,253.28 573.34,253.46 573.67,253.64 574.00,253.82 574.33,254.00 574.66,254.18 574.98,254.36 575.31,254.54 575.64,254.72 575.97,254.90 576.30,255.08 576.62,255.26 576.95,255.44 577.28,255.62 577.61,255.80 577.94,255.98 578.26,256.16 578.59,256.34 578.92,256.52 579.25,256.70 579.58,256.89 579.90,257.07 580.23,257.25 580.56,257.43 580.89,257.61 581.22,257.79 581.54,257.98 581.87,258.16 582.20,258.34 582.53,258.52 582.86,258.70 583.18,258.89 583.51,259.07 583.84,259.25 584.17,259.43 584.50,259.62 584.82,259.80 585.15,259.98 585.48,260.17 585.81,260.35 586.14,260.53 586.46,260.72 586.79,260.90 587.12,261.08 587.45,261.27 587.78,261.45 588.10,261.64 588.43,261.82 588.76,262.00 589.09,262.19 589.42,262.37 589.74,262.56 590.07,262.74 590.40,262.93 590.73,263.11 591.05,263.30 591.38,263.48 591.71,263.67 592.04,263.85 592.37,264.04 592.69,264.22 593.02,264.41 593.35,264.60 593.68,264.78 594.01,264.97 594.33,265.15 594.66,265.34 594.99,265.53 595.32,265.71 595.65,265.90 595.97,266.09 596.30,266.27 596.63,266.46 596.96,266.65 597.29,266.83 597.61,267.02 597.94,267.21 598.27,267.40 598.60,267.58 598.93,267.77 599.25,267.96 599.58,268.15 599.91,268.33 600.24,268.52 600.57,268.71 600.89,268.90 601.22,269.09 601.55,269.28 601.88,269.47 602.21,269.65 602.53,269.84 602.86,270.03 603.19,270.22 603.52,270.41 603.85,270.60 604.17,270.79 604.50,270.98 604.83,271.17 605.16,271.36 605.49,271.55 605.81,271.74 606.14,271.93 606.47,272.12 606.80,272.31 607.13,272.50 607.45,272.69 607.78,272.88 608.11,273.07 608.44,273.27 608.77,273.46 609.09,273.65 609.42,273.84 609.75,274.03 610.08,274.22 610.41,274.41 610.73,274.61 611.06,274.80 611.39,274.99 611.72,275.18 612.05,275.38 612.37,275.57 612.70,275.76 613.03,275.95 613.36,276.15 613.69,276.34 614.01,276.53 614.34,276.73 614.67,276.92 615.00,277.11 615.33,277.31 615.65,277.50 615.98,277.70 616.31,277.89 616.64,278.08 616.97,278.28 617.29,278.47 617.62,278.67 617.95,278.86 618.28,279.06 618.61,279.25 618.93,279.45 619.26,279.64 619.59,279.84 619.92,280.03 620.25,280.23 620.57,280.42 620.90,280.62 621.23,280.82 621.56,281.01 621.89,281.21 622.21,281.41 622.54,281.60 622.87,281.80 623.20,282.00 623.53,282.19 623.85,282.39 624.18,282.59 624.51,282.78 624.84,282.98 625.17,283.18 625.49,283.38 625.82,283.58 626.15,283.77 626.48,283.97 626.81,284.17 627.13,284.37 627.46,284.57 627.79,284.77 628.12,284.97 628.45,285.16 628.77,285.36 629.10,285.56 629.43,285.76 629.76,285.96 630.09,286.16 630.41,286.36 630.74,286.56 631.07,286.76 631.40,286.96 631.73,287.16 632.05,287.36 632.38,287.56 632.71,287.76 633.04,287.97 633.37,288.17 633.69,288.37 634.02,288.57 634.35,288.77 634.68,288.97 635.01,289.18 635.33,289.38 635.66,289.58 635.99,289.78 636.32,289.98 636.65,290.19 636.97,290.39 637.30,290.59 637.63,290.80 637.96,291.00 638.28,291.20 638.61,291.41 638.94,291.61 639.27,291.81 639.60,292.02 639.92,292.22 640.25,292.43 640.58,292.63 640.91,292.83 641.24,293.04 641.56,293.24 641.89,293.45 642.22,293.65 642.55,293.86 642.88,294.07 643.20,294.27 643.53,294.48 643.86,294.68 644.19,294.89 644.52,295.10 644.84,295.30 645.17,295.51 645.50,295.72 645.83,295.92 646.16,296.13 646.48,296.34 646.81,296.54 647.14,296.75 647.47,296.96 647.80,297.17 648.12,297.38 648.45,297.58 648.78,297.79 649.11,298.00 649.44,298.21 649.76,298.42 650.09,298.63 650.42,298.84 650.75,299.05 651.08,299.25 651.40,299.46 651.73,299.67 652.06,299.88 652.39,300.09 652.72,300.30 653.04,300.52 653.37,300.73 653.70,300.94 654.03,301.15 654.36,301.36 654.68,301.57 655.01,301.78 655.34,301.99 655.67,302.21 656.00,302.42 656.32,302.63 656.65,302.84 656.98,303.05 657.31,303.27 657.64,303.48 657.96,303.69 658.29,303.91 658.62,304.12 658.95,304.33 659.28,304.55 659.60,304.76 659.93,304.98 660.26,305.19 660.59,305.40 660.92,305.62 661.24,305.83 661.57,306.05 661.90,306.26 662.23,306.48 662.56,306.70 662.88,306.91 663.21,307.13 663.54,307.34 663.87,307.56 664.20,307.78 664.52,307.99 664.85,308.21 665.18,308.43 665.51,308.64 665.84,308.86 666.16,309.08 666.49,309.30 666.82,309.51 667.15,309.73 667.48,309.95 667.80,310.17 668.13,310.39 668.46,310.61 668.79,310.83 669.12,311.05 669.44,311.26 669.77,311.48 670.10,311.70 670.43,311.92 670.76,312.14 671.08,312.37 671.41,312.59 671.74,312.81 672.07,313.03 672.40,313.25 672.72,313.47 673.05,313.69 673.38,313.91 673.71,314.14 674.04,314.36 674.36,314.58 674.69,314.80 675.02,315.03 675.35,315.25 675.68,315.47 676.00,315.70 676.33,315.92 676.66,316.14 676.99,316.37 677.32,316.59 677.64,316.82 677.97,317.04 678.30,317.27 678.63,317.49 678.96,317.72 679.28,317.94 679.61,318.17 679.94,318.39 680.27,318.62 680.60,318.85 680.92,319.07 681.25,319.30 681.58,319.53 681.91,319.75 682.24,319.98 682.56,320.21 682.89,320.44 683.22,320.67 683.55,320.89 683.88,321.12 684.20,321.35 684.45,321.52 684.69,321.69 684.94,321.87 685.19,322.04 685.43,322.21 685.68,322.38 685.92,322.56 686.17,322.73 686.42,322.90 686.66,323.07 686.91,323.25 687.15,323.42 687.40,323.59 687.65,323.77 687.89,323.94 688.14,324.11 688.38,324.29 688.63,324.46 688.88,324.64 689.12,324.81 689.37,324.98 689.61,325.16 689.86,325.33 690.11,325.51 690.35,325.68 690.60,325.86 690.84,326.03 691.09,326.21 691.34,326.38 691.58,326.56 691.83,326.73 692.07,326.91 692.32,327.09 692.57,327.26 692.81,327.44 693.06,327.62 693.30,327.79 693.55,327.97 693.80,328.15 694.04,328.32 694.29,328.50 694.53,328.68 694.78,328.85 695.03,329.03 695.27,329.21 695.52,329.39 695.76,329.56 696.01,329.74 696.26,329.92 696.50,330.10 696.75,330.28 696.99,330.46 697.24,330.63 697.49,330.81 697.73,330.99 697.98,331.17 698.22,331.35 698.47,331.53 698.72,331.71 698.96,331.89 699.21,332.07 699.45,332.25 699.70,332.43 699.95,332.61 700.19,332.79 700.44,332.97 700.68,333.15 700.93,333.33 701.18,333.51 701.42,333.69 701.67,333.88 701.91,334.06 702.16,334.24 702.41,334.42 702.65,334.60 702.90,334.78 703.14,334.97 703.39,335.15 703.64,335.33 703.88,335.51 704.13,335.70 704.37,335.88 704.62,336.06 704.87,336.25 705.11,336.43 705.36,336.61 705.60,336.80 705.85,336.98 706.10,337.17 706.34,337.35 706.59,337.53 706.83,337.72 707.08,337.90 707.33,338.09 707.57,338.27 707.82,338.46 708.06,338.64 708.31,338.83 708.56,339.02 708.80,339.20 709.05,339.39 709.29,339.57 709.54,339.76 709.79,339.95 710.03,340.13 710.28,340.32 710.52,340.51 710.77,340.69 711.02,340.88 711.26,341.07 711.51,341.26 711.75,341.44 712.00,341.63 712.25,341.82 712.49,342.01 712.74,342.20 712.98,342.39 713.23,342.58 713.48,342.76 713.72,342.95 713.97,343.14 714.21,343.33 714.46,343.52 714.71,343.71 714.95,343.90 715.20,344.09 715.44,344.28 715.69,344.47 715.94,344.66 716.18,344.86 716.43,345.05 716.67,345.24 716.92,345.43 717.17,345.62 717.41,345.81 717.66,346.01 717.90,346.20 718.15,346.39 718.40,346.58 718.64,346.78 718.89,346.97 719.13,347.16 719.38,347.35 719.63,347.55 719.87,347.74 720.12,347.94 720.36,348.13 720.61,348.32 720.86,348.52 721.10,348.71 721.35,348.91 721.59,349.10 721.84,349.30 722.09,349.49 722.33,349.69 722.58,349.89 722.82,350.08 723.07,350.28 723.32,350.47 723.56,350.67 723.81,350.87 724.05,351.06 724.30,351.26 724.55,351.46 724.79,351.66 725.04,351.85 725.28,352.05 725.53,352.25 725.78,352.45 726.02,352.65 726.27,352.85 726.51,353.05 726.76,353.24 727.01,353.44 727.25,353.64 727.50,353.84 727.74,354.04 727.99,354.24 728.24,354.44 728.48,354.64 728.73,354.85 728.97,355.05 729.22,355.25 729.47,355.45 729.71,355.65 729.96,355.85 730.20,356.05 730.45,356.26 730.70,356.46 730.94,356.66 731.19,356.87 731.43,357.07 731.68,357.27 731.92,357.48 732.17,357.68 732.42,357.88 732.66,358.09 732.91,358.29 733.15,358.50 733.40,358.70 733.65,358.91 733.89,359.11 734.14,359.32 734.38,359.52 734.63,359.73 734.88,359.94 735.12,360.14 735.37,360.35 735.61,360.56 735.86,360.76 736.11,360.97 736.35,361.18 736.60,361.39 736.84,361.60 737.09,361.80 737.34,362.01 737.58,362.22 737.83,362.43 738.07,362.64 738.32,362.85 738.57,363.06 738.81,363.27 739.06,363.48 739.30,363.69 739.55,363.90 739.80,364.11 740.04,364.33 740.29,364.54 740.53,364.75 740.78,364.96 741.03,365.17 741.27,365.39 741.52,365.60 741.76,365.81 742.01,366.03 742.26,366.24 742.50,366.45 742.75,366.67 742.99,366.88 743.24,367.10 743.49,367.31 743.73,367.53 743.98,367.74 744.22,367.96 744.47,368.17 744.72,368.39 744.96,368.61 745.21,368.82 745.45,369.04 745.70,369.26 745.95,369.47 746.19,369.69 746.44,369.91 746.68,370.13 746.93,370.35 747.18,370.57 747.42,370.79 747.67,371.01 747.91,371.23 748.16,371.45 748.41,371.67 748.65,371.89 748.90,372.11 749.14,372.33 749.39,372.55 749.64,372.77 749.88,372.99 750.13,373.22 750.37,373.44 750.62,373.66 750.87,373.89 751.11,374.11 751.36,374.33 751.60,374.56 751.85,374.78 752.10,375.01 752.34,375.23 752.59,375.46 752.83,375.68 753.08,375.91 753.33,376.14 753.57,376.36 753.82,376.59 754.06,376.82 754.31,377.04 754.56,377.27 754.80,377.50 755.05,377.73 755.29,377.96 755.54,378.19 755.79,378.42 756.03,378.65 756.28,378.88 756.52,379.11 756.77,379.34 757.02,379.57 757.26,379.80 757.51,380.03 757.75,380.26 758.00,380.50 758.25,380.73 758.49,380.96 758.74,381.19 758.98,381.43 759.23,381.66 759.48,381.90 759.72,382.13 759.97,382.37 760.21,382.60 760.46,382.84 760.71,383.07 760.95,383.31 761.20,383.55 761.44,383.79 761.69,384.02 761.94,384.26 762.18,384.50 762.43,384.74 762.67,384.98 762.92,385.22 763.17,385.46 763.41,385.70 763.66,385.94 763.90,386.18 764.15,386.42 764.40,386.66 764.64,386.90 764.89,387.15 765.13,387.39 765.38,387.63 765.63,387.87 765.87,388.12 766.12,388.36 766.36,388.61 766.61,388.85 766.86,389.10 767.10,389.34 767.35,389.59 767.59,389.84 767.84,390.09 768.09,390.33 768.33,390.58 768.58,390.83 768.82,391.08 769.07,391.33 769.32,391.58 769.56,391.83 769.81,392.08 770.05,392.33 770.30,392.58 770.55,392.83 770.79,393.08 771.04,393.34 771.28,393.59 771.53,393.84 771.78,394.10 772.02,394.35 772.27,394.61 772.51,394.86 772.76,395.12 773.01,395.37 773.25,395.63 773.50,395.89 773.74,396.14 773.99,396.40 774.24,396.66 774.48,396.92 774.73,397.18 774.97,397.44 775.22,397.70 775.47,397.96 775.71,398.22 775.96,398.48 776.20,398.74 776.45,399.01 776.70,399.27 776.94,399.53 777.19,399.80 777.43,400.06 777.68,400.33 777.93,400.59 778.17,400.86 778.42,401.13 778.66,401.39 778.91,401.66 779.15,401.93 779.40,402.20 779.65,402.47 779.89,402.74 780.14,403.01 780.38,403.28 780.63,403.55 780.88,403.82 781.12,404.10 781.37,404.37 781.61,404.64 781.86,404.92 782.11,405.19 782.35,405.47 782.60,405.74 782.84,406.02 783.09,406.30 783.34,406.57 783.58,406.85 783.83,407.13 784.07,407.41 784.32,407.69 784.57,407.97 784.81,408.25 785.06,408.53 785.30,408.81 785.55,409.10 785.80,409.38 786.04,409.67 786.29,409.95 786.53,410.24 786.78,410.52 787.03,410.81 787.27,411.10 787.52,411.38 787.76,411.67 788.01,411.96 788.26,412.25 788.50,412.54 788.75,412.83 788.99,413.12 789.24,413.42 789.49,413.71 789.73,414.00 789.98,414.30 790.22,414.59 790.47,414.89 790.72,415.19 790.96,415.48 791.21,415.78 791.45,416.08 791.70,416.38 791.95,416.68 792.19,416.98 792.44,417.28 792.68,417.58 792.93,417.89 793.18,418.19 793.42,418.49 793.67,418.80 793.91,419.11 794.16,419.41 794.41,419.72 794.65,420.03 794.90,420.34 795.14,420.65 795.39,420.96 795.64,421.27 795.88,421.58 796.13,421.89 796.37,422.21 796.62,422.52 796.87,422.84 797.11,423.16 797.36,423.47 797.60,423.79 797.85,424.11 798.10,424.43 798.34,424.75 798.59,425.07 798.83,425.39 799.08,425.72 799.33,426.04 799.57,426.37 799.82,426.69 800.06,427.02 800.31,427.35 800.56,427.68 800.80,428.01 801.05,428.34 801.29,428.67 801.54,429.00 801.79,429.34 802.03,429.67 802.28,430.01 802.52,430.34 802.77,430.68 803.02,431.02 803.26,431.36 803.51,431.70 803.75,432.04 804.00,432.38 804.25,432.73 804.49,433.07 804.74,433.42 804.98,433.76 805.23,434.11 805.48,434.46 805.72,434.81 805.97,435.16 806.21,435.52 806.46,435.87 806.71,436.22 806.95,436.58 807.20,436.94 807.44,437.30 807.69,437.66 807.94,438.02 808.18,438.38 808.43,438.74 808.67,439.11 808.92,439.47 809.17,439.84 809.41,440.21 809.66,440.58 809.90,440.95 810.15,441.32 810.40,441.69 810.64,442.07 810.89,442.44 811.05,442.70 811.22,442.95 811.38,443.20 811.54,443.45 811.71,443.71 811.87,443.96 812.04,444.22 812.20,444.47 812.36,444.73 812.53,444.99 812.69,445.25 812.86,445.50 813.02,445.76 813.18,446.02 813.35,446.28 813.51,446.54 813.68,446.81 813.84,447.07 814.00,447.33 814.17,447.60 814.33,447.86 814.50,448.13 814.66,448.39 814.82,448.66 814.99,448.93 815.15,449.19 815.32,449.46 815.48,449.73 815.64,450.00 815.81,450.27 815.97,450.55 816.14,450.82 816.30,451.09 816.46,451.37 816.63,451.64 816.79,451.92 816.96,452.19 817.12,452.47 817.28,452.75 817.45,453.03 817.61,453.31 817.78,453.59 817.94,453.87 818.10,454.15 818.27,454.43 818.43,454.72 818.60,455.00 818.76,455.29 818.92,455.58 819.09,455.86 819.25,456.15 819.42,456.44 819.58,456.73 819.74,457.02 819.91,457.31 820.07,457.60 820.24,457.90 820.40,458.19 820.56,458.49 820.73,458.78 820.89,459.08 821.06,459.38 821.22,459.68 821.38,459.98 821.55,460.28 821.71,460.58 821.88,460.89 822.04,461.19 822.20,461.50 822.37,461.80 822.53,462.11 822.70,462.42 822.86,462.73 823.02,463.04 823.19,463.35 823.35,463.66 823.52,463.98 823.68,464.29 823.84,464.61 824.01,464.92 824.17,465.24 824.34,465.56 824.50,465.88 824.66,466.20 824.83,466.53 824.99,466.85 825.16,467.18 825.32,467.50 825.48,467.83 825.65,468.16 825.81,468.49 825.98,468.82 826.14,469.15 826.30,469.49 826.47,469.82 826.63,470.16 826.79,470.50 826.96,470.84 827.12,471.18 827.29,471.52 827.45,471.87 827.61,472.21 827.78,472.56 827.94,472.91 828.11,473.25 828.27,473.61 828.43,473.96 828.60,474.31 828.76,474.67 828.93,475.02 829.09,475.38 829.25,475.74 829.42,476.10 829.58,476.47 829.75,476.83 829.91,477.20 830.07,477.57 830.24,477.94 830.40,478.31 830.57,478.68 830.73,479.06 830.89,479.43 831.06,479.81 831.22,480.19 831.39,480.58 831.55,480.96 831.71,481.35 831.88,481.73 832.04,482.12 832.21,482.52 832.37,482.91 832.53,483.31 832.70,483.70 832.86,484.10 833.03,484.51 833.19,484.91 833.35,485.32 833.52,485.73 833.68,486.14 833.85,486.55 834.01,486.97 834.17,487.38 834.34,487.80 834.50,488.23 834.67,488.65 834.83,489.08 834.99,489.51 835.16,489.94 835.32,490.38 835.49,490.81 835.65,491.25 835.81,491.70 835.98,492.14 836.14,492.59 836.31,493.04 836.47,493.50 836.63,493.95 836.80,494.41 836.96,494.88 837.13,495.34 837.29,495.81 837.45,496.29 837.62,496.76 837.78,497.24 837.95,497.72 838.11,498.21 838.27,498.70 838.44,499.19 838.60,499.69 838.77,500.19 838.93,500.69 839.09,501.20 839.26,501.71 839.42,502.23 839.59,502.75 839.75,503.27 839.91,503.80 840.08,504.33 840.24,504.87 840.41,505.41 840.57,505.96 840.73,506.51 840.90,507.06 841.06,507.62 841.23,508.19 841.39,508.76 841.55,509.34 841.64,509.63 841.72,509.92 841.80,510.21 841.88,510.51 841.96,510.80 842.05,511.10 842.13,511.40 842.21,511.70 842.29,512.00 842.37,512.30 842.46,512.61 842.54,512.91 842.62,513.22 842.70,513.53 842.78,513.84 842.87,514.15 842.95,514.47 843.03,514.78 843.11,515.10 843.19,515.42 843.28,515.74 843.36,516.07 843.44,516.39 843.52,516.72 843.60,517.05 843.69,517.38 843.77,517.71 843.85,518.04 843.93,518.38 844.01,518.72 844.10,519.06 844.18,519.40 844.26,519.75 844.34,520.09 844.42,520.44 844.51,520.79 844.59,521.15 844.67,521.50 844.75,521.86 844.83,522.22 844.92,522.59 845.00,522.95 845.08,523.32 845.16,523.69 845.24,524.06 845.33,524.44 845.41,524.82 845.49,525.20 845.57,525.58 845.65,525.97 845.74,526.36 845.82,526.75 845.90,527.15 845.98,527.55 846.06,527.95 846.15,528.36 846.23,528.76 846.31,529.18 846.39,529.59 846.47,530.01 846.56,530.43 846.64,530.86 846.72,531.29 846.80,531.72 846.88,532.16 846.97,532.60 847.05,533.05 847.13,533.50 847.21,533.96 847.29,534.41 847.38,534.88 847.46,535.35 847.54,535.82 847.62,536.30 847.70,536.78 847.79,537.27 847.87,537.77 847.95,538.26 848.03,538.77 848.11,539.28 848.20,539.80 848.28,540.32 848.36,540.85 848.44,541.39 848.52,541.93 848.61,542.49 848.69,543.04 848.77,543.61 848.85,544.19 848.93,544.77 849.02,545.36 849.10,545.96 849.18,546.57 849.26,547.19 849.34,547.82 849.43,548.46 849.51,549.12 849.59,549.78 849.67,550.46 849.75,551.15 849.84,551.85 849.92,552.57 850.00,553.30" stroke="#f0f" stroke-width="0.85" stroke-dasharray="1.3 1.96" fill="none" marker-start="url(#mbox)" marker-mid="url(#mbox)" marker-end="url(#mbox)"/>
<text x="826" y="118.5" text-anchor="end">current model (alpha=0.4)</text>
<path d="M837.0,112.5H888.9" stroke="#0ff" stroke-width="0.85" stroke-dasharray="6.5 2.6 1.3 2.6" fill="none"/>
<use href="#sboxf" x="862.95" y="112.5"/>
<polyline points="93.50,51.40 94.16,51.65 94.81,51.90 95.47,52.15 96.12,52.39 96.78,52.64 97.44,52.89 98.09,53.14 98.75,53.39 99.40,53.64 100.06,53.89 100.72,54.14 101.37,54.39 102.03,54.63 102.68,54.88 103.34,55.13 104.00,55.38 104.65,55.63 105.31,55.88 105.96,56.13 106.62,56.38 107.28,56.63 107.93,56.88 108.59,57.13 109.24,57.38 109.90,57.63 110.56,57.88 111.21,58.13 111.87,58.38 112.52,58.63 113.18,58.88 113.84,59.13 114.49,59.38 115.15,59.63 115.80,59.88 116.46,60.13 117.12,60.38 117.77,60.64 118.43,60.89 119.08,61.14 119.74,61.39 120.40,61.64 121.05,61.89 121.71,62.14 122.36,62.39 123.02,62.64 123.68,62.90 124.33,63.15 124.99,63.40 125.64,63.65 126.30,63.90 126.96,64.15 127.61,64.41 128.27,64.66 128.92,64.91 129.58,65.16 130.24,65.41 130.89,65.67 131.55,65.92 132.20,66.17 132.86,66.42 133.52,66.68 134.17,66.93 134.83,67.18 135.48,67.43 136.14,67.69 136.80,67.94 137.45,68.19 138.11,68.45 138.76,68.70 139.42,68.95 140.08,69.21 140.73,69.46 141.39,69.71 142.04,69.97 142.70,70.22 143.36,70.47 144.01,70.73 144.67,70.98 145.32,71.24 145.98,71.49 146.64,71.74 147.29,72.00 147.95,72.25 148.60,72.51 149.26,72.76 149.92,73.01 150.57,73.27 151.23,73.52 151.88,73.78 152.54,74.03 153.20,74.29 153.85,74.54 154.51,74.80 155.16,75.05 155.82,75.31 156.48,75.56 157.13,75.82 157.79,76.07 158.44,76.33 159.10,76.58 159.76,76.84 160.41,77.10 161.07,77.35 161.72,77.61 162.38,77.86 163.04,78.12 163.69,78.38 164.35,78.63 165.00,78.89 165.66,79.14 166.32,79.40 166.97,79.66 167.63,79.91 168.28,80.17 168.94,80.43 169.60,80.68 170.25,80.94 170.91,81.20 171.56,81.45 172.22,81.71 172.88,81.97 173.53,82.22 174.19,82.48 174.84,82.74 175.50,83.00 176.16,83.25 176.81,83.51 177.47,83.77 178.12,84.03 178.78,84.29 179.44,84.54 180.09,84.80 180.75,85.06 181.40,85.32 182.06,85.58 182.72,85.83 183.37,86.09 184.03,86.35 184.68,86.61 185.34,86.87 186.00,87.13 186.65,87.39 187.31,87.65 187.96,87.90 188.62,88.16 189.28,88.42 189.93,88.68 190.59,88.94 191.24,89.20 191.90,89.46 192.56,89.72 193.21,89.98 193.87,90.24 194.52,90.50 195.18,90.76 195.84,91.02 196.49,91.28 197.15,91.54 197.80,91.80 198.46,92.06 199.12,92.32 199.77,92.58 200.43,92.84 201.08,93.10 201.74,93.36 202.40,93.62 203.05,93.88 203.71,94.15 204.36,94.41 205.02,94.67 205.68,94.93 206.33,95.19 206.99,95.45 207.64,95.71 208.30,95.98 208.96,96.24 209.61,96.50 210.27,96.76 210.92,97.02 211.58,97.29 212.24,97.55 212.89,97.81 213.55,98.07 214.20,98.33 214.86,98.60 215.52,98.86 216.17,99.12 216.83,99.39 217.48,99.65 218.14,99.91 218.80,100.17 219.45,100.44 220.11,100.70 220.76,100.96 221.42,101.23 222.08,101.49 222.73,101.75 223.39,102.02 224.05,102.28 224.70,102.55 225.36,102.81 226.01,103.07 226.67,103.34 227.33,103.60 227.98,103.87 228.64,104.13 229.29,104.40 229.95,104.66 230.61,104.93 231.26,105.19 231.92,105.46 232.57,105.72 233.23,105.99 233.89,106.25 234.54,106.52 235.20,106.78 235.85,107.05 236.51,107.31 237.17,107.58 237.82,107.84 238.48,108.11 239.13,108.38 239.79,108.64 240.45,108.91 241.10,109.17 241.76,109.44 242.41,109.71 243.07,109.97 243.73,110.24 244.38,110.51 245.04,110.77 245.69,111.04 246.35,111.31 247.01,111.57 247.66,111.84 248.32,112.11 248.97,112.38 249.63,112.64 250.29,112.91 250.94,113.18 251.60,113.45 252.25,113.72 252.91,113.98 253.57,114.25 254.22,114.52 254.88,114.79 255.53,115.06 256.19,115.32 256.85,115.59 257.50,115.86 258.16,116.13 258.81,116.40 259.47,116.67 260.13,116.94 260.78,117.21 261.44,117.48 262.09,117.75 262.75,118.01 263.41,118.28 264.06,118.55 264.72,118.82 265.37,119.09 266.03,119.36 266.69,119.63 267.34,119.90 268.00,120.17 268.65,120.44 269.31,120.72 269.97,120.99 270.62,121.26 271.28,121.53 271.93,121.80 272.59,122.07 273.25,122.34 273.90,122.61 274.56,122.88 275.21,123.15 275.87,123.43 276.53,123.70 277.18,123.97 277.84,124.24 278.49,124.51 279.15,124.79 279.81,125.06 280.46,125.33 281.12,125.60 281.77,125.88 282.43,126.15 283.09,126.42 283.74,126.69 284.40,126.97 285.05,127.24 285.71,127.51 286.37,127.79 287.02,128.06 287.68,128.33 288.33,128.61 288.99,128.88 289.65,129.15 290.30,129.43 290.96,129.70 291.61,129.98 292.27,130.25 292.93,130.52 293.58,130.80 294.24,131.07 294.89,131.35 295.55,131.62 296.21,131.90 296.86,132.17 297.52,132.45 298.17,132.72 298.83,133.00 299.49,133.27 300.14,133.55 300.80,133.83 301.45,134.10 302.11,134.38 302.77,134.65 303.42,134.93 304.08,135.21 304.73,135.48 305.39,135.76 306.05,136.04 306.70,136.31 307.36,136.59 308.01,136.87 308.67,137.14 309.33,137.42 309.98,137.70 310.64,137.98 311.29,138.25 311.95,138.53 312.61,138.81 313.26,139.09 313.92,139.36 314.57,139.64 315.23,139.92 315.89,140.20 316.54,140.48 317.20,140.76 317.85,141.03 318.51,141.31 319.17,141.59 319.82,141.87 320.48,142.15 321.13,142.43 321.79,142.71 322.45,142.99 323.10,143.27 323.76,143.55 324.41,143.83 325.07,144.11 325.73,144.39 326.38,144.67 327.04,144.95 327.69,145.23 328.35,145.51 329.01,145.79 329.66,146.07 330.32,146.35 330.97,146.63 331.63,146.92 332.29,147.20 332.94,147.48 333.60,147.76 334.25,148.04 334.91,148.32 335.57,148.61 336.22,148.89 336.88,149.17 337.53,149.45 338.19,149.74 338.85,150.02 339.50,150.30 340.16,150.58 340.81,150.87 341.47,151.15 342.13,151.43 342.78,151.72 343.44,152.00 344.09,152.28 344.75,152.57 345.41,152.85 346.06,153.14 346.72,153.42 347.37,153.70 348.03,153.99 348.69,154.27 349.34,154.56 350.00,154.84 350.65,155.13 351.31,155.41 351.97,155.70 352.62,155.98 353.28,156.27 353.93,156.55 354.59,156.84 355.25,157.13 355.90,157.41 356.56,157.70 357.21,157.98 357.87,158.27 358.53,158.56 359.18,158.84 359.84,159.13 360.49,159.42 361.15,159.71 361.81,159.99 362.46,160.28 363.12,160.57 363.77,160.86 364.43,161.14 365.09,161.43 365.74,161.72 366.40,162.01 367.05,162.30 367.71,162.58 368.37,162.87 369.02,163.16 369.68,163.45 370.33,163.74 370.99,164.03 371.65,164.32 372.30,164.61 372.96,164.90 373.61,165.19 374.27,165.48 374.93,165.77 375.58,166.06 376.24,166.35 376.89,166.64 377.55,166.93 378.21,167.22 378.86,167.51 379.52,167.80 380.17,168.09 380.83,168.38 381.49,168.68 382.14,168.97 382.80,169.26 383.45,169.55 384.11,169.84 384.77,170.13 385.42,170.43 386.08,170.72 386.73,171.01 387.39,171.31 388.05,171.60 388.70,171.89 389.36,172.18 390.01,172.48 390.67,172.77 391.33,173.07 391.98,173.36 392.64,173.65 393.29,173.95 393.95,174.24 394.61,174.54 395.26,174.83 395.92,175.13 396.57,175.42 397.23,175.72 397.89,176.01 398.54,176.31 399.20,176.60 399.85,176.90 400.51,177.19 401.17,177.49 401.82,177.79 402.48,178.08 403.13,178.38 403.79,178.67 404.45,178.97 405.10,179.27 405.76,179.57 406.41,179.86 407.07,180.16 407.73,180.46 408.38,180.76 409.04,181.05 409.69,181.35 410.35,181.65 411.01,181.95 411.66,182.25 412.32,182.55 412.97,182.84 413.63,183.14 414.29,183.44 414.94,183.74 415.60,184.04 416.25,184.34 416.91,184.64 417.57,184.94 418.22,185.24 418.88,185.54 419.53,185.84 420.19,186.14 420.85,186.44 421.50,186.74 422.16,187.05 422.81,187.35 423.47,187.65 424.13,187.95 424.78,188.25 425.44,188.55 426.09,188.86 426.75,189.16 427.41,189.46 428.06,189.76 428.72,190.07 429.37,190.37 430.03,190.67 430.69,190.98 431.34,191.28 432.00,191.58 432.65,191.89 433.31,192.19 433.97,192.50 434.62,192.80 435.28,193.10 435.93,193.41 436.59,193.71 437.25,194.02 437.90,194.32 438.56,194.63 439.21,194.94 439.87,195.24 440.53,195.55 441.18,195.85 441.84,196.16 442.49,196.47 443.15,196.77 443.81,197.08 444.46,197.39 445.12,197.69 445.77,198.00 446.43,198.31 447.09,198.62 447.74,198.93 448.40,199.23 449.05,199.54 449.71,199.85 450.37,200.16 451.02,200.47 451.68,200.78 452.33,201.09 452.99,201.40 453.65,201.71 454.30,202.02 454.96,202.33 455.61,202.64 456.27,202.95 456.93,203.26 457.58,203.57 458.24,203.88 458.89,204.19 459.55,204.50 460.21,204.81 460.86,205.13 461.52,205.44 462.17,205.75 462.83,206.06 463.49,206.37 464.14,206.69 464.80,207.00 465.45,207.31 466.11,207.63 466.77,207.94 467.42,208.25 468.08,208.57 468.73,208.88 469.39,209.20 470.05,209.51 470.70,209.83 471.36,210.14 472.01,210.46 472.67,210.77 473.33,211.09 473.98,211.40 474.64,211.72 475.29,212.03 475.95,212.35 476.61,212.67 477.26,212.98 477.92,213.30 478.57,213.62 479.23,213.94 479.89,214.25 480.54,214.57 481.20,214.89 481.85,215.21 482.51,215.53 483.17,215.84 483.82,216.16 484.48,216.48 485.14,216.80 485.79,217.12 486.45,217.44 487.10,217.76 487.76,218.08 488.42,218.40 489.07,218.72 489.73,219.04 490.38,219.36 491.04,219.69 491.70,220.01 492.35,220.33 493.01,220.65 493.66,220.97 494.32,221.30 494.98,221.62 495.63,221.94 496.29,222.26 496.94,222.59 497.60,222.91 498.26,223.23 498.91,223.56 499.57,223.88 500.22,224.21 500.88,224.53 501.54,224.86 502.19,225.18 502.85,225.51 503.50,225.83 504.16,226.16 504.82,226.48 505.47,226.81 506.13,227.14 506.78,227.46 507.44,227.79 508.10,228.12 508.75,228.44 509.41,228.77 510.06,229.10 510.72,229.43 511.38,229.76 512.03,230.08 512.69,230.41 513.34,230.74 514.00,231.07 514.66,231.40 515.31,231.73 515.97,232.06 516.62,232.39 517.28,232.72 517.94,233.05 518.59,233.38 519.25,233.72 519.90,234.05 520.56,234.38 521.22,234.71 521.87,235.04 522.53,235.38 523.18,235.71 523.84,236.04 524.50,236.37 525.15,236.71 525.81,237.04 526.46,237.38 527.12,237.71 527.78,238.04 528.43,238.38 529.09,238.71 529.74,239.05 530.40,239.39 531.06,239.72 531.71,240.06 532.37,240.39 533.02,240.73 533.68,241.07 534.34,241.40 534.99,241.74 535.65,242.08 536.30,242.42 536.96,242.76 537.62,243.09 538.27,243.43 538.93,243.77 539.58,244.11 540.24,244.45 540.90,244.79 541.55,245.13 542.21,245.47 542.86,245.81 543.52,246.15 544.18,246.49 544.83,246.84 545.49,247.18 546.14,247.52 546.80,247.86 547.46,248.20 548.11,248.55 548.77,248.89 549.42,249.23 550.08,249.58 550.74,249.92 551.39,250.27 552.05,250.61 552.70,250.96 553.36,251.30 554.02,251.65 554.67,251.99 555.33,252.34 555.98,252.68 556.64,253.03 557.30,253.38 557.95,253.73 558.61,254.07 559.26,254.42 559.92,254.77 560.58,255.12 561.23,255.47 561.89,255.82 562.54,256.16 563.20,256.51 563.86,256.86 564.51,257.21 565.17,257.57 565.82,257.92 566.48,258.27 567.14,258.62 567.79,258.97 568.45,259.32 569.10,259.68 569.76,260.03 570.42,260.38 571.07,260.73 571.73,261.09 572.38,261.44 573.04,261.80 573.70,262.15 574.35,262.51 575.01,262.86 575.66,263.22 576.32,263.57 576.98,263.93 577.63,264.29 578.29,264.64 578.94,265.00 579.60,265.36 580.26,265.72 580.91,266.07 581.57,266.43 582.22,266.79 582.88,267.15 583.54,267.51 584.19,267.87 584.85,268.23 585.50,268.59 586.16,268.95 586.82,269.31 587.47,269.68 588.13,270.04 588.78,270.40 589.44,270.76 590.10,271.13 590.75,271.49 591.41,271.85 592.06,272.22 592.72,272.58 593.38,272.95 594.03,273.31 594.69,273.68 595.34,274.04 596.00,274.41 596.66,274.78 597.31,275.14 597.97,275.51 598.62,275.88 599.28,276.25 599.94,276.62 600.59,276.99 601.25,277.36 601.90,277.72 602.56,278.10 603.22,278.47 603.87,278.84 604.53,279.21 605.18,279.58 605.84,279.95 606.50,280.32 607.15,280.70 607.81,281.07 608.46,281.44 609.12,281.82 609.78,282.19 610.43,282.57 611.09,282.94 611.74,283.32 612.40,283.69 613.06,284.07 613.71,284.45 614.37,284.82 615.02,285.20 615.68,285.58 616.34,285.96 616.99,286.34 617.65,286.71 618.30,287.09 618.96,287.47 619.62,287.85 620.27,288.24 620.93,288.62 621.58,289.00 622.24,289.38 622.90,289.76 623.55,290.15 624.21,290.53 624.86,290.91 625.52,291.30 626.18,291.68 626.83,292.07 627.49,292.45 628.14,292.84 628.80,293.23 629.46,293.61 630.11,294.00 630.77,294.39 631.42,294.78 632.08,295.16 632.74,295.55 633.39,295.94 634.05,296.33 634.70,296.72 635.36,297.12 636.02,297.51 636.67,297.90 637.33,298.29 637.98,298.68 638.64,299.08 639.30,299.47 639.95,299.87 640.61,300.26 641.26,300.66 641.92,301.05 642.58,301.45 643.23,301.84 643.89,302.24 644.54,302.64 645.20,303.04 645.86,303.44 646.51,303.84 647.17,304.24 647.82,304.64 648.48,305.04 649.14,305.44 649.79,305.84 650.45,306.24 651.10,306.64 651.76,307.05 652.42,307.45 653.07,307.86 653.73,308.26 654.38,308.67 655.04,309.07 655.70,309.48 656.35,309.89 657.01,310.29 657.66,310.70 658.32,311.11 658.98,311.52 659.63,311.93 660.29,312.34 660.94,312.75 661.60,313.16 662.26,313.57 662.91,313.99 663.57,314.40 664.22,314.81 664.88,315.23 665.54,315.64 666.19,316.06 666.85,316.47 667.50,316.89 668.16,317.31 668.82,317.72 669.47,318.14 670.13,318.56 670.78,318.98 671.44,319.40 672.10,319.82 672.75,320.24 673.41,320.66 674.06,321.09 674.72,321.51 675.38,321.93 676.03,322.36 676.69,322.78 677.34,323.21 678.00,323.63 678.66,324.06 679.31,324.49 679.97,324.92 680.62,325.35 681.28,325.77 681.94,326.21 682.59,326.64 683.25,327.07 683.90,327.50 684.56,327.93 685.22,328.37 685.87,328.80 686.53,329.23 687.18,329.67 687.84,330.11 688.50,330.54 689.15,330.98 689.81,331.42 690.46,331.86 691.12,332.30 691.78,332.74 692.43,333.18 693.09,333.62 693.74,334.06 694.40,334.50 695.06,334.95 695.71,335.39 696.37,335.84 697.02,336.28 697.68,336.73 698.34,337.18 698.99,337.63 699.65,338.08 700.30,338.53 700.96,338.98 701.62,339.43 702.27,339.88 702.93,340.33 703.58,340.79 704.24,341.24 704.90,341.70 705.55,342.15 706.21,342.61 706.86,343.07 707.44,343.47 708.01,343.87 708.59,344.27 709.16,344.68 709.73,345.08 710.31,345.48 710.88,345.89 711.46,346.29 712.03,346.70 712.60,347.11 713.18,347.52 713.75,347.92 714.33,348.33 714.90,348.74 715.47,349.15 716.05,349.56 716.62,349.97 717.20,350.39 717.77,350.80 718.34,351.21 718.92,351.63 719.49,352.04 720.07,352.46 720.64,352.88 721.21,353.29 721.79,353.71 722.36,354.13 722.94,354.55 723.51,354.97 724.08,355.39 724.66,355.81 725.23,356.23 725.81,356.66 726.38,357.08 726.95,357.50 727.53,357.93 728.10,358.36 728.68,358.78 729.25,359.21 729.82,359.64 730.40,360.07 730.97,360.50 731.55,360.93 732.12,361.36 732.69,361.79 733.27,362.23 733.84,362.66 734.42,363.10 734.99,363.53 735.56,363.97 736.14,364.40 736.71,364.84 737.29,365.28 737.86,365.72 738.43,366.16 739.01,366.60 739.58,367.05 740.16,367.49 740.73,367.93 741.30,368.38 741.88,368.83 742.45,369.27 743.03,369.72 743.60,370.17 744.17,370.62 744.75,371.07 745.32,371.52 745.90,371.97 746.47,372.43 747.05,372.88 747.62,373.34 748.19,373.79 748.77,374.25 749.34,374.71 749.92,375.17 750.49,375.63 751.06,376.09 751.64,376.55 752.21,377.01 752.79,377.48 753.36,377.94 753.93,378.41 754.51,378.88 755.08,379.34 755.66,379.81 756.23,380.28 756.80,380.76 757.38,381.23 757.95,381.70 758.53,382.18 759.10,382.65 759.67,383.13 760.25,383.61 760.82,384.09 761.40,384.57 761.97,385.05 762.54,385.53 763.12,386.02 763.69,386.50 764.27,386.99 764.84,387.47 765.41,387.96 765.99,388.45 766.56,388.94 767.14,389.44 767.71,389.93 768.28,390.43 768.86,390.92 769.43,391.42 770.01,391.92 770.58,392.42 771.15,392.92 771.73,393.42 772.30,393.93 772.88,394.43 773.45,394.94 774.02,395.45 774.60,395.96 775.17,396.47 775.75,396.98 776.32,397.49 776.89,398.01 777.47,398.52 778.04,399.04 778.62,399.56 779.19,400.08 779.76,400.61 780.34,401.13 780.91,401.65 781.49,402.18 782.06,402.71 782.63,403.24 783.21,403.77 783.78,404.31 784.36,404.84 784.93,405.38 785.50,405.92 786.08,406.46 786.65,407.00 787.23,407.54 787.80,408.09 788.37,408.63 788.95,409.18 789.52,409.73 790.10,410.28 790.67,410.84 791.24,411.39 791.82,411.95 792.39,412.51 792.97,413.07 793.54,413.64 794.11,414.20 794.69,414.77 795.26,415.34 795.84,415.91 796.41,416.48 796.98,417.06 797.56,417.63 798.13,418.21 798.62,418.71 799.12,419.21 799.61,419.71 800.10,420.22 800.59,420.72 801.08,421.23 801.58,421.74 802.07,422.25 802.56,422.76 803.05,423.27 803.54,423.78 804.04,424.30 804.53,424.82 805.02,425.34 805.51,425.86 806.00,426.38 806.50,426.91 806.99,427.44 807.48,427.97 807.97,428.50 808.46,429.03 808.96,429.56 809.45,430.10 809.94,430.64 810.43,431.18 810.92,431.72 811.42,432.27 811.91,432.82 812.40,433.36 812.89,433.92 813.38,434.47 813.88,435.02 814.37,435.58 814.86,436.14 815.35,436.70 815.84,437.27 816.34,437.84 816.83,438.40 817.32,438.98 817.81,439.55 818.30,440.13 818.80,440.71 819.29,441.29 819.78,441.87 820.27,442.46 820.76,443.05 821.26,443.64 821.75,444.23 822.24,444.83 822.73,445.43 823.22,446.03 823.72,446.64 824.21,447.25 824.70,447.86 825.19,448.47 825.68,449.09 826.18,449.71 826.67,450.33 827.16,450.96 827.65,451.59 828.14,452.22 828.64,452.86 829.13,453.50 829.62,454.14 830.11,454.79 830.60,455.44 831.10,456.09 831.59,456.75 832.08,457.41 832.57,458.07 833.06,458.74 833.56,459.42 834.05,460.09 834.54,460.77 834.95,461.34 835.36,461.92 835.77,462.49 836.18,463.07 836.59,463.65 837.00,464.24 837.41,464.83 837.82,465.42 838.23,466.01 838.64,466.61 839.05,467.21 839.46,467.82 839.87,468.42 840.28,469.04 840.69,469.65 841.10,470.27 841.51,470.89 841.92,471.52 842.33,472.15 842.74,472.78 843.15,473.42 843.56,474.06 843.97,474.71 844.38,475.36 844.79,476.02 845.20,476.67 845.61,477.34 846.02,478.01 846.43,478.68 846.84,479.36 847.25,480.04 847.66,480.73 848.07,481.42 848.48,482.12 848.89,482.82 849.30,483.53 849.71,484.24 850.12,484.96 850.53,485.69 850.94,486.42 851.35,487.16 851.76,487.90 852.17,488.65 852.58,489.41 852.99,490.17 853.40,490.94 853.73,491.56 854.06,492.19 854.38,492.82 854.71,493.46 855.04,494.10 855.37,494.74 855.70,495.39 856.02,496.05 856.35,496.71 856.68,497.38 857.01,498.05 857.34,498.73 857.66,499.41 857.99,500.10 858.32,500.80 858.65,501.50 858.98,502.21 859.30,502.93 859.63,503.66 859.96,504.39 860.29,505.13 860.62,505.87 860.94,506.63 861.27,507.39 861.60,508.16 861.93,508.94 862.26,509.73 862.58,510.53 862.91,511.33 863.24,512.15 863.57,512.98 863.90,513.82 864.22,514.67 864.55,515.53 864.88,516.40 865.13,517.06 865.37,517.73 865.62,518.41 865.86,519.09 866.11,519.79 866.36,520.49 866.60,521.20 866.85,521.92 867.09,522.64 867.34,523.38 867.59,524.12 867.83,524.88 868.08,525.65 868.32,526.43 868.57,527.21 868.82,528.02 869.06,528.83 869.31,529.66 869.55,530.49 869.80,531.35 870.05,532.22 870.29,533.10 870.54,534.00 870.78,534.92 871.03,535.85 871.11,536.17 871.19,536.49 871.28,536.81 871.36,537.13 871.44,537.46 871.52,537.78 871.60,538.11 871.69,538.45 871.77,538.78 871.85,539.12 871.93,539.46 872.01,539.80 872.10,540.15 872.18,540.49 872.26,540.85 872.34,541.20 872.42,541.56 872.51,541.92 872.59,542.28 872.67,542.65 872.75,543.02 872.83,543.39 872.92,543.76 873.00,544.14 873.08,544.53 873.16,544.91 873.24,545.31 873.33,545.70 873.41,546.10 873.49,546.50 873.57,546.91 873.65,547.32 873.74,547.74 873.82,548.16 873.90,548.59 873.98,549.02 874.06,549.45 874.15,549.89 874.23,550.34 874.31,550.79 874.39,551.25 874.47,551.72 874.56,552.19 874.64,552.67 874.72,553.15 874.80,553.64 874.88,554.14 874.97,554.65 875.05,555.16 875.13,555.69 875.21,556.22 875.29,556.76 875.38,557.32 875.46,557.88 875.54,558.45 875.62,559.03 875.70,559.63 875.79,560.24 875.87,560.86 875.95,561.50" stroke="#0ff" stroke-width="0.85" stroke-dasharray="6.5 2.6 1.3 2.6" fill="none" marker-start="url(#mboxf)" marker-mid="url(#mboxf)" marker-end="url(#mboxf)"/>
</g>
<g id="frame" stroke="#000" stroke-width="1.6" fill="none">
<path d="M93.5,21.9H911.2V603.9H93.5Z"/>
<path d="M93.50,603.9v-8.24M93.50,21.9v8.24M184.36,603.9v-8.24M184.36,21.9v8.24M275.21,603.9v-8.24M275.21,21.9v8.24M366.07,603.9v-8.24M366.07,21.9v8.24M456.92,603.9v-8.24M456.92,21.9v8.24M547.78,603.9v-8.24M547.78,21.9v8.24M638.63,603.9v-8.24M638.63,21.9v8.24M729.49,603.9v-8.24M729.49,21.9v8.24M820.34,603.9v-8.24M820.34,21.9v8.24M911.20,603.9v-8.24M911.20,21.9v8.24M93.5,603.90h8.24M911.2,603.90h-8.24M93.5,520.76h8.24M911.2,520.76h-8.24M93.5,437.61h8.24M911.2,437.61h-8.24M93.5,354.47h8.24M911.2,354.47h-8.24M93.5,271.33h8.24M911.2,271.33h-8.24M93.5,188.19h8.24M911.2,188.19h-8.24M93.5,105.04h8.24M911.2,105.04h-8.24M93.5,21.90h8.24M911.2,21.90h-8.24"/>
</g>
</svg>
</body></html>
